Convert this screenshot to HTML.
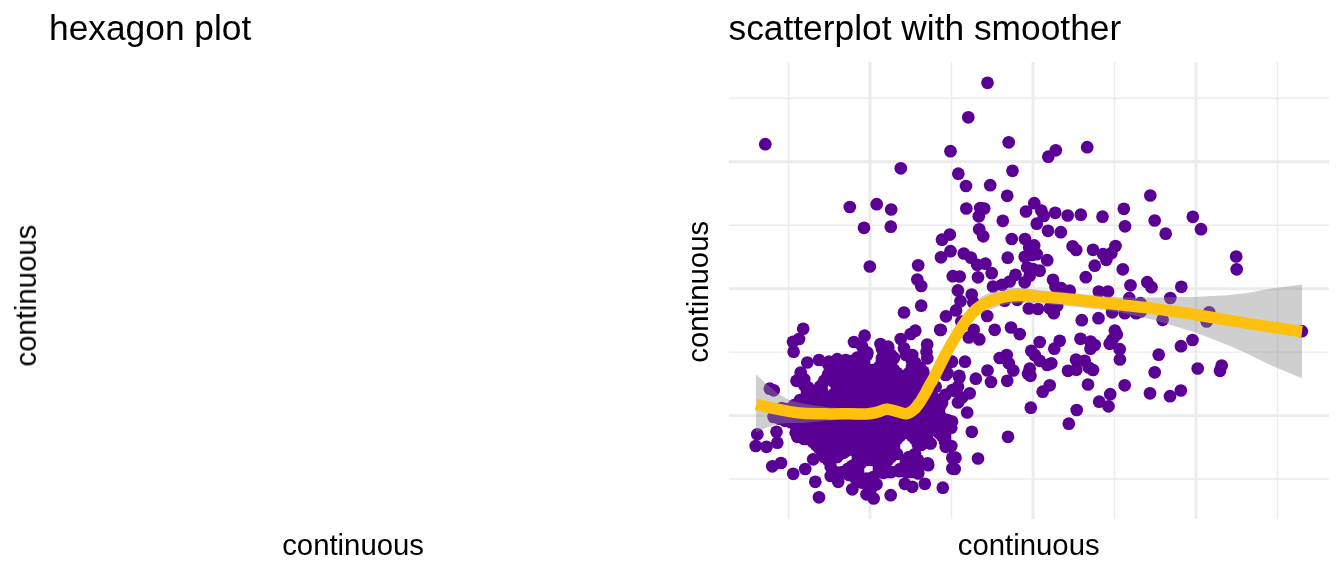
<!DOCTYPE html>
<html><head><meta charset="utf-8"><title>plots</title>
<style>
html,body{margin:0;padding:0;background:#fff;}
body{width:1344px;height:576px;overflow:hidden;}
svg{display:block}
text{font-family:"Liberation Sans",sans-serif;fill:#000;}
</style></head><body>
<svg width="1344" height="576" viewBox="0 0 1344 576">
<rect width="1344" height="576" fill="#fff"/>
<g opacity="0.999"><text x="49" y="40" font-size="35.35">hexagon plot</text>
<text x="728.5" y="40" font-size="35.35">scatterplot with smoother</text>
<text x="353.1" y="554.6" font-size="29.33" text-anchor="middle">continuous</text>
<text x="1028.7" y="554.6" font-size="29.33" text-anchor="middle">continuous</text>
<text transform="translate(35.9,295.6) rotate(-90)" font-size="29.33" text-anchor="middle">continuous</text>
<text transform="translate(707.9,291.8) rotate(-90)" font-size="29.33" text-anchor="middle">continuous</text>
</g><g stroke="#EBEBEB" fill="none"><line x1="788.5" x2="788.5" y1="62" y2="519" stroke-width="1.45"/><line x1="951.5" x2="951.5" y1="62" y2="519" stroke-width="1.45"/><line x1="1114.5" x2="1114.5" y1="62" y2="519" stroke-width="1.45"/><line x1="1277.5" x2="1277.5" y1="62" y2="519" stroke-width="1.45"/><line x1="729" x2="1329" y1="98.25" y2="98.25" stroke-width="1.45"/><line x1="729" x2="1329" y1="225.2" y2="225.2" stroke-width="1.45"/><line x1="729" x2="1329" y1="352.1" y2="352.1" stroke-width="1.45"/><line x1="729" x2="1329" y1="479.0" y2="479.0" stroke-width="1.45"/><line x1="870" x2="870" y1="62" y2="519" stroke-width="2.9"/><line x1="1033" x2="1033" y1="62" y2="519" stroke-width="2.9"/><line x1="1196" x2="1196" y1="62" y2="519" stroke-width="2.9"/><line x1="729" x2="1329" y1="161.8" y2="161.8" stroke-width="2.9"/><line x1="729" x2="1329" y1="288.7" y2="288.7" stroke-width="2.9"/><line x1="729" x2="1329" y1="415.6" y2="415.6" stroke-width="2.9"/></g>
<g fill="#5A0095"><circle cx="882.0" cy="349.0" r="6.35"/><circle cx="885.0" cy="349.0" r="6.35"/><circle cx="888.0" cy="349.0" r="6.35"/><circle cx="885.0" cy="352.0" r="6.35"/><circle cx="888.0" cy="352.0" r="6.35"/><circle cx="867.0" cy="355.0" r="6.35"/><circle cx="885.0" cy="355.0" r="6.35"/><circle cx="888.0" cy="355.0" r="6.35"/><circle cx="891.0" cy="355.0" r="6.35"/><circle cx="906.0" cy="355.0" r="6.35"/><circle cx="861.0" cy="358.0" r="6.35"/><circle cx="864.0" cy="358.0" r="6.35"/><circle cx="882.0" cy="358.0" r="6.35"/><circle cx="885.0" cy="358.0" r="6.35"/><circle cx="888.0" cy="358.0" r="6.35"/><circle cx="891.0" cy="358.0" r="6.35"/><circle cx="894.0" cy="358.0" r="6.35"/><circle cx="837.0" cy="361.0" r="6.35"/><circle cx="840.0" cy="361.0" r="6.35"/><circle cx="843.0" cy="361.0" r="6.35"/><circle cx="846.0" cy="361.0" r="6.35"/><circle cx="849.0" cy="361.0" r="6.35"/><circle cx="852.0" cy="361.0" r="6.35"/><circle cx="855.0" cy="361.0" r="6.35"/><circle cx="858.0" cy="361.0" r="6.35"/><circle cx="861.0" cy="361.0" r="6.35"/><circle cx="864.0" cy="361.0" r="6.35"/><circle cx="882.0" cy="361.0" r="6.35"/><circle cx="885.0" cy="361.0" r="6.35"/><circle cx="888.0" cy="361.0" r="6.35"/><circle cx="891.0" cy="361.0" r="6.35"/><circle cx="912.0" cy="361.0" r="6.35"/><circle cx="828.0" cy="364.0" r="6.35"/><circle cx="831.0" cy="364.0" r="6.35"/><circle cx="834.0" cy="364.0" r="6.35"/><circle cx="837.0" cy="364.0" r="6.35"/><circle cx="840.0" cy="364.0" r="6.35"/><circle cx="843.0" cy="364.0" r="6.35"/><circle cx="846.0" cy="364.0" r="6.35"/><circle cx="849.0" cy="364.0" r="6.35"/><circle cx="852.0" cy="364.0" r="6.35"/><circle cx="855.0" cy="364.0" r="6.35"/><circle cx="858.0" cy="364.0" r="6.35"/><circle cx="861.0" cy="364.0" r="6.35"/><circle cx="864.0" cy="364.0" r="6.35"/><circle cx="882.0" cy="364.0" r="6.35"/><circle cx="885.0" cy="364.0" r="6.35"/><circle cx="888.0" cy="364.0" r="6.35"/><circle cx="891.0" cy="364.0" r="6.35"/><circle cx="915.0" cy="364.0" r="6.35"/><circle cx="831.0" cy="367.0" r="6.35"/><circle cx="834.0" cy="367.0" r="6.35"/><circle cx="837.0" cy="367.0" r="6.35"/><circle cx="840.0" cy="367.0" r="6.35"/><circle cx="843.0" cy="367.0" r="6.35"/><circle cx="846.0" cy="367.0" r="6.35"/><circle cx="849.0" cy="367.0" r="6.35"/><circle cx="852.0" cy="367.0" r="6.35"/><circle cx="855.0" cy="367.0" r="6.35"/><circle cx="858.0" cy="367.0" r="6.35"/><circle cx="861.0" cy="367.0" r="6.35"/><circle cx="864.0" cy="367.0" r="6.35"/><circle cx="879.0" cy="367.0" r="6.35"/><circle cx="882.0" cy="367.0" r="6.35"/><circle cx="885.0" cy="367.0" r="6.35"/><circle cx="888.0" cy="367.0" r="6.35"/><circle cx="891.0" cy="367.0" r="6.35"/><circle cx="912.0" cy="367.0" r="6.35"/><circle cx="915.0" cy="367.0" r="6.35"/><circle cx="918.0" cy="367.0" r="6.35"/><circle cx="831.0" cy="370.0" r="6.35"/><circle cx="834.0" cy="370.0" r="6.35"/><circle cx="837.0" cy="370.0" r="6.35"/><circle cx="840.0" cy="370.0" r="6.35"/><circle cx="843.0" cy="370.0" r="6.35"/><circle cx="846.0" cy="370.0" r="6.35"/><circle cx="849.0" cy="370.0" r="6.35"/><circle cx="852.0" cy="370.0" r="6.35"/><circle cx="855.0" cy="370.0" r="6.35"/><circle cx="858.0" cy="370.0" r="6.35"/><circle cx="861.0" cy="370.0" r="6.35"/><circle cx="864.0" cy="370.0" r="6.35"/><circle cx="867.0" cy="370.0" r="6.35"/><circle cx="870.0" cy="370.0" r="6.35"/><circle cx="873.0" cy="370.0" r="6.35"/><circle cx="876.0" cy="370.0" r="6.35"/><circle cx="879.0" cy="370.0" r="6.35"/><circle cx="882.0" cy="370.0" r="6.35"/><circle cx="885.0" cy="370.0" r="6.35"/><circle cx="888.0" cy="370.0" r="6.35"/><circle cx="891.0" cy="370.0" r="6.35"/><circle cx="894.0" cy="370.0" r="6.35"/><circle cx="912.0" cy="370.0" r="6.35"/><circle cx="915.0" cy="370.0" r="6.35"/><circle cx="918.0" cy="370.0" r="6.35"/><circle cx="921.0" cy="370.0" r="6.35"/><circle cx="831.0" cy="373.0" r="6.35"/><circle cx="834.0" cy="373.0" r="6.35"/><circle cx="837.0" cy="373.0" r="6.35"/><circle cx="840.0" cy="373.0" r="6.35"/><circle cx="843.0" cy="373.0" r="6.35"/><circle cx="846.0" cy="373.0" r="6.35"/><circle cx="849.0" cy="373.0" r="6.35"/><circle cx="852.0" cy="373.0" r="6.35"/><circle cx="855.0" cy="373.0" r="6.35"/><circle cx="858.0" cy="373.0" r="6.35"/><circle cx="861.0" cy="373.0" r="6.35"/><circle cx="864.0" cy="373.0" r="6.35"/><circle cx="867.0" cy="373.0" r="6.35"/><circle cx="870.0" cy="373.0" r="6.35"/><circle cx="873.0" cy="373.0" r="6.35"/><circle cx="876.0" cy="373.0" r="6.35"/><circle cx="879.0" cy="373.0" r="6.35"/><circle cx="882.0" cy="373.0" r="6.35"/><circle cx="885.0" cy="373.0" r="6.35"/><circle cx="888.0" cy="373.0" r="6.35"/><circle cx="891.0" cy="373.0" r="6.35"/><circle cx="894.0" cy="373.0" r="6.35"/><circle cx="897.0" cy="373.0" r="6.35"/><circle cx="909.0" cy="373.0" r="6.35"/><circle cx="912.0" cy="373.0" r="6.35"/><circle cx="915.0" cy="373.0" r="6.35"/><circle cx="918.0" cy="373.0" r="6.35"/><circle cx="921.0" cy="373.0" r="6.35"/><circle cx="801.0" cy="376.0" r="6.35"/><circle cx="828.0" cy="376.0" r="6.35"/><circle cx="831.0" cy="376.0" r="6.35"/><circle cx="834.0" cy="376.0" r="6.35"/><circle cx="837.0" cy="376.0" r="6.35"/><circle cx="840.0" cy="376.0" r="6.35"/><circle cx="843.0" cy="376.0" r="6.35"/><circle cx="846.0" cy="376.0" r="6.35"/><circle cx="849.0" cy="376.0" r="6.35"/><circle cx="852.0" cy="376.0" r="6.35"/><circle cx="855.0" cy="376.0" r="6.35"/><circle cx="858.0" cy="376.0" r="6.35"/><circle cx="861.0" cy="376.0" r="6.35"/><circle cx="864.0" cy="376.0" r="6.35"/><circle cx="867.0" cy="376.0" r="6.35"/><circle cx="870.0" cy="376.0" r="6.35"/><circle cx="873.0" cy="376.0" r="6.35"/><circle cx="876.0" cy="376.0" r="6.35"/><circle cx="879.0" cy="376.0" r="6.35"/><circle cx="882.0" cy="376.0" r="6.35"/><circle cx="885.0" cy="376.0" r="6.35"/><circle cx="888.0" cy="376.0" r="6.35"/><circle cx="891.0" cy="376.0" r="6.35"/><circle cx="894.0" cy="376.0" r="6.35"/><circle cx="897.0" cy="376.0" r="6.35"/><circle cx="900.0" cy="376.0" r="6.35"/><circle cx="903.0" cy="376.0" r="6.35"/><circle cx="906.0" cy="376.0" r="6.35"/><circle cx="909.0" cy="376.0" r="6.35"/><circle cx="912.0" cy="376.0" r="6.35"/><circle cx="915.0" cy="376.0" r="6.35"/><circle cx="918.0" cy="376.0" r="6.35"/><circle cx="921.0" cy="376.0" r="6.35"/><circle cx="924.0" cy="376.0" r="6.35"/><circle cx="801.0" cy="379.0" r="6.35"/><circle cx="828.0" cy="379.0" r="6.35"/><circle cx="831.0" cy="379.0" r="6.35"/><circle cx="834.0" cy="379.0" r="6.35"/><circle cx="837.0" cy="379.0" r="6.35"/><circle cx="840.0" cy="379.0" r="6.35"/><circle cx="843.0" cy="379.0" r="6.35"/><circle cx="846.0" cy="379.0" r="6.35"/><circle cx="849.0" cy="379.0" r="6.35"/><circle cx="852.0" cy="379.0" r="6.35"/><circle cx="855.0" cy="379.0" r="6.35"/><circle cx="858.0" cy="379.0" r="6.35"/><circle cx="861.0" cy="379.0" r="6.35"/><circle cx="864.0" cy="379.0" r="6.35"/><circle cx="867.0" cy="379.0" r="6.35"/><circle cx="870.0" cy="379.0" r="6.35"/><circle cx="873.0" cy="379.0" r="6.35"/><circle cx="876.0" cy="379.0" r="6.35"/><circle cx="879.0" cy="379.0" r="6.35"/><circle cx="882.0" cy="379.0" r="6.35"/><circle cx="885.0" cy="379.0" r="6.35"/><circle cx="888.0" cy="379.0" r="6.35"/><circle cx="891.0" cy="379.0" r="6.35"/><circle cx="894.0" cy="379.0" r="6.35"/><circle cx="897.0" cy="379.0" r="6.35"/><circle cx="900.0" cy="379.0" r="6.35"/><circle cx="903.0" cy="379.0" r="6.35"/><circle cx="906.0" cy="379.0" r="6.35"/><circle cx="909.0" cy="379.0" r="6.35"/><circle cx="912.0" cy="379.0" r="6.35"/><circle cx="915.0" cy="379.0" r="6.35"/><circle cx="918.0" cy="379.0" r="6.35"/><circle cx="921.0" cy="379.0" r="6.35"/><circle cx="924.0" cy="379.0" r="6.35"/><circle cx="804.0" cy="382.0" r="6.35"/><circle cx="834.0" cy="382.0" r="6.35"/><circle cx="837.0" cy="382.0" r="6.35"/><circle cx="840.0" cy="382.0" r="6.35"/><circle cx="843.0" cy="382.0" r="6.35"/><circle cx="846.0" cy="382.0" r="6.35"/><circle cx="849.0" cy="382.0" r="6.35"/><circle cx="852.0" cy="382.0" r="6.35"/><circle cx="855.0" cy="382.0" r="6.35"/><circle cx="858.0" cy="382.0" r="6.35"/><circle cx="861.0" cy="382.0" r="6.35"/><circle cx="864.0" cy="382.0" r="6.35"/><circle cx="867.0" cy="382.0" r="6.35"/><circle cx="870.0" cy="382.0" r="6.35"/><circle cx="873.0" cy="382.0" r="6.35"/><circle cx="876.0" cy="382.0" r="6.35"/><circle cx="879.0" cy="382.0" r="6.35"/><circle cx="882.0" cy="382.0" r="6.35"/><circle cx="885.0" cy="382.0" r="6.35"/><circle cx="888.0" cy="382.0" r="6.35"/><circle cx="891.0" cy="382.0" r="6.35"/><circle cx="894.0" cy="382.0" r="6.35"/><circle cx="897.0" cy="382.0" r="6.35"/><circle cx="900.0" cy="382.0" r="6.35"/><circle cx="903.0" cy="382.0" r="6.35"/><circle cx="906.0" cy="382.0" r="6.35"/><circle cx="909.0" cy="382.0" r="6.35"/><circle cx="912.0" cy="382.0" r="6.35"/><circle cx="915.0" cy="382.0" r="6.35"/><circle cx="918.0" cy="382.0" r="6.35"/><circle cx="921.0" cy="382.0" r="6.35"/><circle cx="924.0" cy="382.0" r="6.35"/><circle cx="927.0" cy="382.0" r="6.35"/><circle cx="804.0" cy="385.0" r="6.35"/><circle cx="822.0" cy="385.0" r="6.35"/><circle cx="837.0" cy="385.0" r="6.35"/><circle cx="840.0" cy="385.0" r="6.35"/><circle cx="843.0" cy="385.0" r="6.35"/><circle cx="846.0" cy="385.0" r="6.35"/><circle cx="849.0" cy="385.0" r="6.35"/><circle cx="852.0" cy="385.0" r="6.35"/><circle cx="855.0" cy="385.0" r="6.35"/><circle cx="858.0" cy="385.0" r="6.35"/><circle cx="861.0" cy="385.0" r="6.35"/><circle cx="864.0" cy="385.0" r="6.35"/><circle cx="867.0" cy="385.0" r="6.35"/><circle cx="870.0" cy="385.0" r="6.35"/><circle cx="873.0" cy="385.0" r="6.35"/><circle cx="876.0" cy="385.0" r="6.35"/><circle cx="879.0" cy="385.0" r="6.35"/><circle cx="882.0" cy="385.0" r="6.35"/><circle cx="885.0" cy="385.0" r="6.35"/><circle cx="888.0" cy="385.0" r="6.35"/><circle cx="891.0" cy="385.0" r="6.35"/><circle cx="894.0" cy="385.0" r="6.35"/><circle cx="897.0" cy="385.0" r="6.35"/><circle cx="900.0" cy="385.0" r="6.35"/><circle cx="903.0" cy="385.0" r="6.35"/><circle cx="906.0" cy="385.0" r="6.35"/><circle cx="909.0" cy="385.0" r="6.35"/><circle cx="912.0" cy="385.0" r="6.35"/><circle cx="915.0" cy="385.0" r="6.35"/><circle cx="918.0" cy="385.0" r="6.35"/><circle cx="921.0" cy="385.0" r="6.35"/><circle cx="924.0" cy="385.0" r="6.35"/><circle cx="927.0" cy="385.0" r="6.35"/><circle cx="807.0" cy="388.0" r="6.35"/><circle cx="837.0" cy="388.0" r="6.35"/><circle cx="840.0" cy="388.0" r="6.35"/><circle cx="843.0" cy="388.0" r="6.35"/><circle cx="846.0" cy="388.0" r="6.35"/><circle cx="849.0" cy="388.0" r="6.35"/><circle cx="852.0" cy="388.0" r="6.35"/><circle cx="855.0" cy="388.0" r="6.35"/><circle cx="858.0" cy="388.0" r="6.35"/><circle cx="861.0" cy="388.0" r="6.35"/><circle cx="864.0" cy="388.0" r="6.35"/><circle cx="867.0" cy="388.0" r="6.35"/><circle cx="870.0" cy="388.0" r="6.35"/><circle cx="873.0" cy="388.0" r="6.35"/><circle cx="876.0" cy="388.0" r="6.35"/><circle cx="879.0" cy="388.0" r="6.35"/><circle cx="882.0" cy="388.0" r="6.35"/><circle cx="885.0" cy="388.0" r="6.35"/><circle cx="888.0" cy="388.0" r="6.35"/><circle cx="891.0" cy="388.0" r="6.35"/><circle cx="894.0" cy="388.0" r="6.35"/><circle cx="897.0" cy="388.0" r="6.35"/><circle cx="900.0" cy="388.0" r="6.35"/><circle cx="903.0" cy="388.0" r="6.35"/><circle cx="906.0" cy="388.0" r="6.35"/><circle cx="909.0" cy="388.0" r="6.35"/><circle cx="912.0" cy="388.0" r="6.35"/><circle cx="915.0" cy="388.0" r="6.35"/><circle cx="918.0" cy="388.0" r="6.35"/><circle cx="921.0" cy="388.0" r="6.35"/><circle cx="924.0" cy="388.0" r="6.35"/><circle cx="927.0" cy="388.0" r="6.35"/><circle cx="807.0" cy="391.0" r="6.35"/><circle cx="810.0" cy="391.0" r="6.35"/><circle cx="813.0" cy="391.0" r="6.35"/><circle cx="816.0" cy="391.0" r="6.35"/><circle cx="819.0" cy="391.0" r="6.35"/><circle cx="822.0" cy="391.0" r="6.35"/><circle cx="837.0" cy="391.0" r="6.35"/><circle cx="840.0" cy="391.0" r="6.35"/><circle cx="843.0" cy="391.0" r="6.35"/><circle cx="846.0" cy="391.0" r="6.35"/><circle cx="849.0" cy="391.0" r="6.35"/><circle cx="852.0" cy="391.0" r="6.35"/><circle cx="855.0" cy="391.0" r="6.35"/><circle cx="858.0" cy="391.0" r="6.35"/><circle cx="861.0" cy="391.0" r="6.35"/><circle cx="864.0" cy="391.0" r="6.35"/><circle cx="867.0" cy="391.0" r="6.35"/><circle cx="870.0" cy="391.0" r="6.35"/><circle cx="873.0" cy="391.0" r="6.35"/><circle cx="876.0" cy="391.0" r="6.35"/><circle cx="879.0" cy="391.0" r="6.35"/><circle cx="882.0" cy="391.0" r="6.35"/><circle cx="885.0" cy="391.0" r="6.35"/><circle cx="888.0" cy="391.0" r="6.35"/><circle cx="891.0" cy="391.0" r="6.35"/><circle cx="894.0" cy="391.0" r="6.35"/><circle cx="897.0" cy="391.0" r="6.35"/><circle cx="900.0" cy="391.0" r="6.35"/><circle cx="903.0" cy="391.0" r="6.35"/><circle cx="906.0" cy="391.0" r="6.35"/><circle cx="909.0" cy="391.0" r="6.35"/><circle cx="912.0" cy="391.0" r="6.35"/><circle cx="915.0" cy="391.0" r="6.35"/><circle cx="918.0" cy="391.0" r="6.35"/><circle cx="921.0" cy="391.0" r="6.35"/><circle cx="924.0" cy="391.0" r="6.35"/><circle cx="927.0" cy="391.0" r="6.35"/><circle cx="807.0" cy="394.0" r="6.35"/><circle cx="810.0" cy="394.0" r="6.35"/><circle cx="813.0" cy="394.0" r="6.35"/><circle cx="816.0" cy="394.0" r="6.35"/><circle cx="819.0" cy="394.0" r="6.35"/><circle cx="822.0" cy="394.0" r="6.35"/><circle cx="834.0" cy="394.0" r="6.35"/><circle cx="837.0" cy="394.0" r="6.35"/><circle cx="840.0" cy="394.0" r="6.35"/><circle cx="843.0" cy="394.0" r="6.35"/><circle cx="846.0" cy="394.0" r="6.35"/><circle cx="849.0" cy="394.0" r="6.35"/><circle cx="852.0" cy="394.0" r="6.35"/><circle cx="855.0" cy="394.0" r="6.35"/><circle cx="858.0" cy="394.0" r="6.35"/><circle cx="861.0" cy="394.0" r="6.35"/><circle cx="864.0" cy="394.0" r="6.35"/><circle cx="867.0" cy="394.0" r="6.35"/><circle cx="870.0" cy="394.0" r="6.35"/><circle cx="873.0" cy="394.0" r="6.35"/><circle cx="876.0" cy="394.0" r="6.35"/><circle cx="879.0" cy="394.0" r="6.35"/><circle cx="882.0" cy="394.0" r="6.35"/><circle cx="885.0" cy="394.0" r="6.35"/><circle cx="888.0" cy="394.0" r="6.35"/><circle cx="891.0" cy="394.0" r="6.35"/><circle cx="894.0" cy="394.0" r="6.35"/><circle cx="897.0" cy="394.0" r="6.35"/><circle cx="900.0" cy="394.0" r="6.35"/><circle cx="903.0" cy="394.0" r="6.35"/><circle cx="906.0" cy="394.0" r="6.35"/><circle cx="909.0" cy="394.0" r="6.35"/><circle cx="912.0" cy="394.0" r="6.35"/><circle cx="915.0" cy="394.0" r="6.35"/><circle cx="918.0" cy="394.0" r="6.35"/><circle cx="921.0" cy="394.0" r="6.35"/><circle cx="924.0" cy="394.0" r="6.35"/><circle cx="927.0" cy="394.0" r="6.35"/><circle cx="930.0" cy="394.0" r="6.35"/><circle cx="807.0" cy="397.0" r="6.35"/><circle cx="810.0" cy="397.0" r="6.35"/><circle cx="813.0" cy="397.0" r="6.35"/><circle cx="816.0" cy="397.0" r="6.35"/><circle cx="819.0" cy="397.0" r="6.35"/><circle cx="822.0" cy="397.0" r="6.35"/><circle cx="825.0" cy="397.0" r="6.35"/><circle cx="828.0" cy="397.0" r="6.35"/><circle cx="831.0" cy="397.0" r="6.35"/><circle cx="834.0" cy="397.0" r="6.35"/><circle cx="837.0" cy="397.0" r="6.35"/><circle cx="840.0" cy="397.0" r="6.35"/><circle cx="843.0" cy="397.0" r="6.35"/><circle cx="846.0" cy="397.0" r="6.35"/><circle cx="849.0" cy="397.0" r="6.35"/><circle cx="852.0" cy="397.0" r="6.35"/><circle cx="855.0" cy="397.0" r="6.35"/><circle cx="858.0" cy="397.0" r="6.35"/><circle cx="861.0" cy="397.0" r="6.35"/><circle cx="864.0" cy="397.0" r="6.35"/><circle cx="867.0" cy="397.0" r="6.35"/><circle cx="870.0" cy="397.0" r="6.35"/><circle cx="873.0" cy="397.0" r="6.35"/><circle cx="876.0" cy="397.0" r="6.35"/><circle cx="879.0" cy="397.0" r="6.35"/><circle cx="882.0" cy="397.0" r="6.35"/><circle cx="885.0" cy="397.0" r="6.35"/><circle cx="888.0" cy="397.0" r="6.35"/><circle cx="891.0" cy="397.0" r="6.35"/><circle cx="894.0" cy="397.0" r="6.35"/><circle cx="897.0" cy="397.0" r="6.35"/><circle cx="900.0" cy="397.0" r="6.35"/><circle cx="903.0" cy="397.0" r="6.35"/><circle cx="906.0" cy="397.0" r="6.35"/><circle cx="909.0" cy="397.0" r="6.35"/><circle cx="912.0" cy="397.0" r="6.35"/><circle cx="915.0" cy="397.0" r="6.35"/><circle cx="918.0" cy="397.0" r="6.35"/><circle cx="921.0" cy="397.0" r="6.35"/><circle cx="924.0" cy="397.0" r="6.35"/><circle cx="927.0" cy="397.0" r="6.35"/><circle cx="930.0" cy="397.0" r="6.35"/><circle cx="933.0" cy="397.0" r="6.35"/><circle cx="807.0" cy="400.0" r="6.35"/><circle cx="810.0" cy="400.0" r="6.35"/><circle cx="813.0" cy="400.0" r="6.35"/><circle cx="816.0" cy="400.0" r="6.35"/><circle cx="819.0" cy="400.0" r="6.35"/><circle cx="822.0" cy="400.0" r="6.35"/><circle cx="825.0" cy="400.0" r="6.35"/><circle cx="828.0" cy="400.0" r="6.35"/><circle cx="831.0" cy="400.0" r="6.35"/><circle cx="834.0" cy="400.0" r="6.35"/><circle cx="837.0" cy="400.0" r="6.35"/><circle cx="840.0" cy="400.0" r="6.35"/><circle cx="843.0" cy="400.0" r="6.35"/><circle cx="846.0" cy="400.0" r="6.35"/><circle cx="849.0" cy="400.0" r="6.35"/><circle cx="852.0" cy="400.0" r="6.35"/><circle cx="855.0" cy="400.0" r="6.35"/><circle cx="858.0" cy="400.0" r="6.35"/><circle cx="861.0" cy="400.0" r="6.35"/><circle cx="864.0" cy="400.0" r="6.35"/><circle cx="867.0" cy="400.0" r="6.35"/><circle cx="870.0" cy="400.0" r="6.35"/><circle cx="873.0" cy="400.0" r="6.35"/><circle cx="876.0" cy="400.0" r="6.35"/><circle cx="879.0" cy="400.0" r="6.35"/><circle cx="882.0" cy="400.0" r="6.35"/><circle cx="885.0" cy="400.0" r="6.35"/><circle cx="888.0" cy="400.0" r="6.35"/><circle cx="891.0" cy="400.0" r="6.35"/><circle cx="894.0" cy="400.0" r="6.35"/><circle cx="897.0" cy="400.0" r="6.35"/><circle cx="900.0" cy="400.0" r="6.35"/><circle cx="903.0" cy="400.0" r="6.35"/><circle cx="906.0" cy="400.0" r="6.35"/><circle cx="909.0" cy="400.0" r="6.35"/><circle cx="912.0" cy="400.0" r="6.35"/><circle cx="915.0" cy="400.0" r="6.35"/><circle cx="918.0" cy="400.0" r="6.35"/><circle cx="921.0" cy="400.0" r="6.35"/><circle cx="924.0" cy="400.0" r="6.35"/><circle cx="927.0" cy="400.0" r="6.35"/><circle cx="930.0" cy="400.0" r="6.35"/><circle cx="933.0" cy="400.0" r="6.35"/><circle cx="936.0" cy="400.0" r="6.35"/><circle cx="939.0" cy="400.0" r="6.35"/><circle cx="942.0" cy="400.0" r="6.35"/><circle cx="807.0" cy="403.0" r="6.35"/><circle cx="810.0" cy="403.0" r="6.35"/><circle cx="813.0" cy="403.0" r="6.35"/><circle cx="816.0" cy="403.0" r="6.35"/><circle cx="819.0" cy="403.0" r="6.35"/><circle cx="822.0" cy="403.0" r="6.35"/><circle cx="825.0" cy="403.0" r="6.35"/><circle cx="828.0" cy="403.0" r="6.35"/><circle cx="831.0" cy="403.0" r="6.35"/><circle cx="834.0" cy="403.0" r="6.35"/><circle cx="837.0" cy="403.0" r="6.35"/><circle cx="840.0" cy="403.0" r="6.35"/><circle cx="843.0" cy="403.0" r="6.35"/><circle cx="846.0" cy="403.0" r="6.35"/><circle cx="849.0" cy="403.0" r="6.35"/><circle cx="852.0" cy="403.0" r="6.35"/><circle cx="855.0" cy="403.0" r="6.35"/><circle cx="858.0" cy="403.0" r="6.35"/><circle cx="861.0" cy="403.0" r="6.35"/><circle cx="864.0" cy="403.0" r="6.35"/><circle cx="867.0" cy="403.0" r="6.35"/><circle cx="870.0" cy="403.0" r="6.35"/><circle cx="873.0" cy="403.0" r="6.35"/><circle cx="876.0" cy="403.0" r="6.35"/><circle cx="879.0" cy="403.0" r="6.35"/><circle cx="882.0" cy="403.0" r="6.35"/><circle cx="885.0" cy="403.0" r="6.35"/><circle cx="888.0" cy="403.0" r="6.35"/><circle cx="891.0" cy="403.0" r="6.35"/><circle cx="894.0" cy="403.0" r="6.35"/><circle cx="897.0" cy="403.0" r="6.35"/><circle cx="900.0" cy="403.0" r="6.35"/><circle cx="903.0" cy="403.0" r="6.35"/><circle cx="906.0" cy="403.0" r="6.35"/><circle cx="909.0" cy="403.0" r="6.35"/><circle cx="912.0" cy="403.0" r="6.35"/><circle cx="915.0" cy="403.0" r="6.35"/><circle cx="918.0" cy="403.0" r="6.35"/><circle cx="921.0" cy="403.0" r="6.35"/><circle cx="924.0" cy="403.0" r="6.35"/><circle cx="927.0" cy="403.0" r="6.35"/><circle cx="930.0" cy="403.0" r="6.35"/><circle cx="933.0" cy="403.0" r="6.35"/><circle cx="936.0" cy="403.0" r="6.35"/><circle cx="939.0" cy="403.0" r="6.35"/><circle cx="942.0" cy="403.0" r="6.35"/><circle cx="801.0" cy="406.0" r="6.35"/><circle cx="804.0" cy="406.0" r="6.35"/><circle cx="807.0" cy="406.0" r="6.35"/><circle cx="810.0" cy="406.0" r="6.35"/><circle cx="813.0" cy="406.0" r="6.35"/><circle cx="816.0" cy="406.0" r="6.35"/><circle cx="819.0" cy="406.0" r="6.35"/><circle cx="822.0" cy="406.0" r="6.35"/><circle cx="825.0" cy="406.0" r="6.35"/><circle cx="828.0" cy="406.0" r="6.35"/><circle cx="831.0" cy="406.0" r="6.35"/><circle cx="834.0" cy="406.0" r="6.35"/><circle cx="837.0" cy="406.0" r="6.35"/><circle cx="840.0" cy="406.0" r="6.35"/><circle cx="843.0" cy="406.0" r="6.35"/><circle cx="846.0" cy="406.0" r="6.35"/><circle cx="849.0" cy="406.0" r="6.35"/><circle cx="852.0" cy="406.0" r="6.35"/><circle cx="855.0" cy="406.0" r="6.35"/><circle cx="858.0" cy="406.0" r="6.35"/><circle cx="861.0" cy="406.0" r="6.35"/><circle cx="864.0" cy="406.0" r="6.35"/><circle cx="867.0" cy="406.0" r="6.35"/><circle cx="870.0" cy="406.0" r="6.35"/><circle cx="873.0" cy="406.0" r="6.35"/><circle cx="876.0" cy="406.0" r="6.35"/><circle cx="879.0" cy="406.0" r="6.35"/><circle cx="882.0" cy="406.0" r="6.35"/><circle cx="885.0" cy="406.0" r="6.35"/><circle cx="888.0" cy="406.0" r="6.35"/><circle cx="891.0" cy="406.0" r="6.35"/><circle cx="894.0" cy="406.0" r="6.35"/><circle cx="897.0" cy="406.0" r="6.35"/><circle cx="900.0" cy="406.0" r="6.35"/><circle cx="903.0" cy="406.0" r="6.35"/><circle cx="906.0" cy="406.0" r="6.35"/><circle cx="909.0" cy="406.0" r="6.35"/><circle cx="912.0" cy="406.0" r="6.35"/><circle cx="915.0" cy="406.0" r="6.35"/><circle cx="918.0" cy="406.0" r="6.35"/><circle cx="921.0" cy="406.0" r="6.35"/><circle cx="924.0" cy="406.0" r="6.35"/><circle cx="927.0" cy="406.0" r="6.35"/><circle cx="930.0" cy="406.0" r="6.35"/><circle cx="933.0" cy="406.0" r="6.35"/><circle cx="936.0" cy="406.0" r="6.35"/><circle cx="939.0" cy="406.0" r="6.35"/><circle cx="786.0" cy="409.0" r="6.35"/><circle cx="789.0" cy="409.0" r="6.35"/><circle cx="792.0" cy="409.0" r="6.35"/><circle cx="795.0" cy="409.0" r="6.35"/><circle cx="798.0" cy="409.0" r="6.35"/><circle cx="801.0" cy="409.0" r="6.35"/><circle cx="804.0" cy="409.0" r="6.35"/><circle cx="807.0" cy="409.0" r="6.35"/><circle cx="810.0" cy="409.0" r="6.35"/><circle cx="813.0" cy="409.0" r="6.35"/><circle cx="816.0" cy="409.0" r="6.35"/><circle cx="819.0" cy="409.0" r="6.35"/><circle cx="822.0" cy="409.0" r="6.35"/><circle cx="825.0" cy="409.0" r="6.35"/><circle cx="828.0" cy="409.0" r="6.35"/><circle cx="831.0" cy="409.0" r="6.35"/><circle cx="834.0" cy="409.0" r="6.35"/><circle cx="837.0" cy="409.0" r="6.35"/><circle cx="840.0" cy="409.0" r="6.35"/><circle cx="843.0" cy="409.0" r="6.35"/><circle cx="846.0" cy="409.0" r="6.35"/><circle cx="849.0" cy="409.0" r="6.35"/><circle cx="852.0" cy="409.0" r="6.35"/><circle cx="855.0" cy="409.0" r="6.35"/><circle cx="858.0" cy="409.0" r="6.35"/><circle cx="861.0" cy="409.0" r="6.35"/><circle cx="864.0" cy="409.0" r="6.35"/><circle cx="867.0" cy="409.0" r="6.35"/><circle cx="870.0" cy="409.0" r="6.35"/><circle cx="873.0" cy="409.0" r="6.35"/><circle cx="876.0" cy="409.0" r="6.35"/><circle cx="879.0" cy="409.0" r="6.35"/><circle cx="882.0" cy="409.0" r="6.35"/><circle cx="885.0" cy="409.0" r="6.35"/><circle cx="888.0" cy="409.0" r="6.35"/><circle cx="891.0" cy="409.0" r="6.35"/><circle cx="894.0" cy="409.0" r="6.35"/><circle cx="897.0" cy="409.0" r="6.35"/><circle cx="900.0" cy="409.0" r="6.35"/><circle cx="903.0" cy="409.0" r="6.35"/><circle cx="906.0" cy="409.0" r="6.35"/><circle cx="909.0" cy="409.0" r="6.35"/><circle cx="912.0" cy="409.0" r="6.35"/><circle cx="915.0" cy="409.0" r="6.35"/><circle cx="918.0" cy="409.0" r="6.35"/><circle cx="921.0" cy="409.0" r="6.35"/><circle cx="924.0" cy="409.0" r="6.35"/><circle cx="927.0" cy="409.0" r="6.35"/><circle cx="930.0" cy="409.0" r="6.35"/><circle cx="933.0" cy="409.0" r="6.35"/><circle cx="936.0" cy="409.0" r="6.35"/><circle cx="939.0" cy="409.0" r="6.35"/><circle cx="780.0" cy="412.0" r="6.35"/><circle cx="783.0" cy="412.0" r="6.35"/><circle cx="786.0" cy="412.0" r="6.35"/><circle cx="789.0" cy="412.0" r="6.35"/><circle cx="792.0" cy="412.0" r="6.35"/><circle cx="795.0" cy="412.0" r="6.35"/><circle cx="798.0" cy="412.0" r="6.35"/><circle cx="801.0" cy="412.0" r="6.35"/><circle cx="804.0" cy="412.0" r="6.35"/><circle cx="807.0" cy="412.0" r="6.35"/><circle cx="810.0" cy="412.0" r="6.35"/><circle cx="813.0" cy="412.0" r="6.35"/><circle cx="816.0" cy="412.0" r="6.35"/><circle cx="819.0" cy="412.0" r="6.35"/><circle cx="822.0" cy="412.0" r="6.35"/><circle cx="825.0" cy="412.0" r="6.35"/><circle cx="828.0" cy="412.0" r="6.35"/><circle cx="831.0" cy="412.0" r="6.35"/><circle cx="834.0" cy="412.0" r="6.35"/><circle cx="837.0" cy="412.0" r="6.35"/><circle cx="840.0" cy="412.0" r="6.35"/><circle cx="843.0" cy="412.0" r="6.35"/><circle cx="846.0" cy="412.0" r="6.35"/><circle cx="849.0" cy="412.0" r="6.35"/><circle cx="852.0" cy="412.0" r="6.35"/><circle cx="855.0" cy="412.0" r="6.35"/><circle cx="858.0" cy="412.0" r="6.35"/><circle cx="861.0" cy="412.0" r="6.35"/><circle cx="864.0" cy="412.0" r="6.35"/><circle cx="867.0" cy="412.0" r="6.35"/><circle cx="870.0" cy="412.0" r="6.35"/><circle cx="873.0" cy="412.0" r="6.35"/><circle cx="876.0" cy="412.0" r="6.35"/><circle cx="879.0" cy="412.0" r="6.35"/><circle cx="882.0" cy="412.0" r="6.35"/><circle cx="885.0" cy="412.0" r="6.35"/><circle cx="888.0" cy="412.0" r="6.35"/><circle cx="891.0" cy="412.0" r="6.35"/><circle cx="894.0" cy="412.0" r="6.35"/><circle cx="897.0" cy="412.0" r="6.35"/><circle cx="900.0" cy="412.0" r="6.35"/><circle cx="903.0" cy="412.0" r="6.35"/><circle cx="906.0" cy="412.0" r="6.35"/><circle cx="909.0" cy="412.0" r="6.35"/><circle cx="912.0" cy="412.0" r="6.35"/><circle cx="915.0" cy="412.0" r="6.35"/><circle cx="918.0" cy="412.0" r="6.35"/><circle cx="921.0" cy="412.0" r="6.35"/><circle cx="924.0" cy="412.0" r="6.35"/><circle cx="927.0" cy="412.0" r="6.35"/><circle cx="930.0" cy="412.0" r="6.35"/><circle cx="933.0" cy="412.0" r="6.35"/><circle cx="936.0" cy="412.0" r="6.35"/><circle cx="939.0" cy="412.0" r="6.35"/><circle cx="777.0" cy="415.0" r="6.35"/><circle cx="780.0" cy="415.0" r="6.35"/><circle cx="783.0" cy="415.0" r="6.35"/><circle cx="786.0" cy="415.0" r="6.35"/><circle cx="789.0" cy="415.0" r="6.35"/><circle cx="792.0" cy="415.0" r="6.35"/><circle cx="795.0" cy="415.0" r="6.35"/><circle cx="798.0" cy="415.0" r="6.35"/><circle cx="801.0" cy="415.0" r="6.35"/><circle cx="804.0" cy="415.0" r="6.35"/><circle cx="807.0" cy="415.0" r="6.35"/><circle cx="810.0" cy="415.0" r="6.35"/><circle cx="813.0" cy="415.0" r="6.35"/><circle cx="816.0" cy="415.0" r="6.35"/><circle cx="819.0" cy="415.0" r="6.35"/><circle cx="822.0" cy="415.0" r="6.35"/><circle cx="825.0" cy="415.0" r="6.35"/><circle cx="828.0" cy="415.0" r="6.35"/><circle cx="831.0" cy="415.0" r="6.35"/><circle cx="834.0" cy="415.0" r="6.35"/><circle cx="837.0" cy="415.0" r="6.35"/><circle cx="840.0" cy="415.0" r="6.35"/><circle cx="843.0" cy="415.0" r="6.35"/><circle cx="846.0" cy="415.0" r="6.35"/><circle cx="849.0" cy="415.0" r="6.35"/><circle cx="852.0" cy="415.0" r="6.35"/><circle cx="855.0" cy="415.0" r="6.35"/><circle cx="858.0" cy="415.0" r="6.35"/><circle cx="861.0" cy="415.0" r="6.35"/><circle cx="864.0" cy="415.0" r="6.35"/><circle cx="867.0" cy="415.0" r="6.35"/><circle cx="870.0" cy="415.0" r="6.35"/><circle cx="873.0" cy="415.0" r="6.35"/><circle cx="876.0" cy="415.0" r="6.35"/><circle cx="879.0" cy="415.0" r="6.35"/><circle cx="882.0" cy="415.0" r="6.35"/><circle cx="885.0" cy="415.0" r="6.35"/><circle cx="888.0" cy="415.0" r="6.35"/><circle cx="891.0" cy="415.0" r="6.35"/><circle cx="894.0" cy="415.0" r="6.35"/><circle cx="897.0" cy="415.0" r="6.35"/><circle cx="900.0" cy="415.0" r="6.35"/><circle cx="903.0" cy="415.0" r="6.35"/><circle cx="906.0" cy="415.0" r="6.35"/><circle cx="909.0" cy="415.0" r="6.35"/><circle cx="912.0" cy="415.0" r="6.35"/><circle cx="915.0" cy="415.0" r="6.35"/><circle cx="918.0" cy="415.0" r="6.35"/><circle cx="921.0" cy="415.0" r="6.35"/><circle cx="924.0" cy="415.0" r="6.35"/><circle cx="927.0" cy="415.0" r="6.35"/><circle cx="930.0" cy="415.0" r="6.35"/><circle cx="933.0" cy="415.0" r="6.35"/><circle cx="936.0" cy="415.0" r="6.35"/><circle cx="939.0" cy="415.0" r="6.35"/><circle cx="780.0" cy="418.0" r="6.35"/><circle cx="783.0" cy="418.0" r="6.35"/><circle cx="786.0" cy="418.0" r="6.35"/><circle cx="789.0" cy="418.0" r="6.35"/><circle cx="792.0" cy="418.0" r="6.35"/><circle cx="795.0" cy="418.0" r="6.35"/><circle cx="798.0" cy="418.0" r="6.35"/><circle cx="801.0" cy="418.0" r="6.35"/><circle cx="804.0" cy="418.0" r="6.35"/><circle cx="807.0" cy="418.0" r="6.35"/><circle cx="810.0" cy="418.0" r="6.35"/><circle cx="813.0" cy="418.0" r="6.35"/><circle cx="816.0" cy="418.0" r="6.35"/><circle cx="819.0" cy="418.0" r="6.35"/><circle cx="822.0" cy="418.0" r="6.35"/><circle cx="825.0" cy="418.0" r="6.35"/><circle cx="828.0" cy="418.0" r="6.35"/><circle cx="831.0" cy="418.0" r="6.35"/><circle cx="834.0" cy="418.0" r="6.35"/><circle cx="837.0" cy="418.0" r="6.35"/><circle cx="840.0" cy="418.0" r="6.35"/><circle cx="843.0" cy="418.0" r="6.35"/><circle cx="846.0" cy="418.0" r="6.35"/><circle cx="849.0" cy="418.0" r="6.35"/><circle cx="852.0" cy="418.0" r="6.35"/><circle cx="855.0" cy="418.0" r="6.35"/><circle cx="858.0" cy="418.0" r="6.35"/><circle cx="861.0" cy="418.0" r="6.35"/><circle cx="864.0" cy="418.0" r="6.35"/><circle cx="867.0" cy="418.0" r="6.35"/><circle cx="870.0" cy="418.0" r="6.35"/><circle cx="873.0" cy="418.0" r="6.35"/><circle cx="876.0" cy="418.0" r="6.35"/><circle cx="879.0" cy="418.0" r="6.35"/><circle cx="882.0" cy="418.0" r="6.35"/><circle cx="885.0" cy="418.0" r="6.35"/><circle cx="888.0" cy="418.0" r="6.35"/><circle cx="891.0" cy="418.0" r="6.35"/><circle cx="894.0" cy="418.0" r="6.35"/><circle cx="897.0" cy="418.0" r="6.35"/><circle cx="900.0" cy="418.0" r="6.35"/><circle cx="903.0" cy="418.0" r="6.35"/><circle cx="906.0" cy="418.0" r="6.35"/><circle cx="909.0" cy="418.0" r="6.35"/><circle cx="912.0" cy="418.0" r="6.35"/><circle cx="915.0" cy="418.0" r="6.35"/><circle cx="918.0" cy="418.0" r="6.35"/><circle cx="921.0" cy="418.0" r="6.35"/><circle cx="924.0" cy="418.0" r="6.35"/><circle cx="927.0" cy="418.0" r="6.35"/><circle cx="930.0" cy="418.0" r="6.35"/><circle cx="933.0" cy="418.0" r="6.35"/><circle cx="936.0" cy="418.0" r="6.35"/><circle cx="939.0" cy="418.0" r="6.35"/><circle cx="942.0" cy="418.0" r="6.35"/><circle cx="789.0" cy="421.0" r="6.35"/><circle cx="792.0" cy="421.0" r="6.35"/><circle cx="795.0" cy="421.0" r="6.35"/><circle cx="798.0" cy="421.0" r="6.35"/><circle cx="801.0" cy="421.0" r="6.35"/><circle cx="804.0" cy="421.0" r="6.35"/><circle cx="807.0" cy="421.0" r="6.35"/><circle cx="810.0" cy="421.0" r="6.35"/><circle cx="813.0" cy="421.0" r="6.35"/><circle cx="816.0" cy="421.0" r="6.35"/><circle cx="819.0" cy="421.0" r="6.35"/><circle cx="822.0" cy="421.0" r="6.35"/><circle cx="825.0" cy="421.0" r="6.35"/><circle cx="828.0" cy="421.0" r="6.35"/><circle cx="831.0" cy="421.0" r="6.35"/><circle cx="834.0" cy="421.0" r="6.35"/><circle cx="837.0" cy="421.0" r="6.35"/><circle cx="840.0" cy="421.0" r="6.35"/><circle cx="843.0" cy="421.0" r="6.35"/><circle cx="846.0" cy="421.0" r="6.35"/><circle cx="849.0" cy="421.0" r="6.35"/><circle cx="852.0" cy="421.0" r="6.35"/><circle cx="855.0" cy="421.0" r="6.35"/><circle cx="858.0" cy="421.0" r="6.35"/><circle cx="861.0" cy="421.0" r="6.35"/><circle cx="864.0" cy="421.0" r="6.35"/><circle cx="867.0" cy="421.0" r="6.35"/><circle cx="870.0" cy="421.0" r="6.35"/><circle cx="873.0" cy="421.0" r="6.35"/><circle cx="876.0" cy="421.0" r="6.35"/><circle cx="879.0" cy="421.0" r="6.35"/><circle cx="882.0" cy="421.0" r="6.35"/><circle cx="885.0" cy="421.0" r="6.35"/><circle cx="888.0" cy="421.0" r="6.35"/><circle cx="891.0" cy="421.0" r="6.35"/><circle cx="894.0" cy="421.0" r="6.35"/><circle cx="897.0" cy="421.0" r="6.35"/><circle cx="900.0" cy="421.0" r="6.35"/><circle cx="903.0" cy="421.0" r="6.35"/><circle cx="906.0" cy="421.0" r="6.35"/><circle cx="909.0" cy="421.0" r="6.35"/><circle cx="912.0" cy="421.0" r="6.35"/><circle cx="915.0" cy="421.0" r="6.35"/><circle cx="918.0" cy="421.0" r="6.35"/><circle cx="921.0" cy="421.0" r="6.35"/><circle cx="924.0" cy="421.0" r="6.35"/><circle cx="927.0" cy="421.0" r="6.35"/><circle cx="930.0" cy="421.0" r="6.35"/><circle cx="933.0" cy="421.0" r="6.35"/><circle cx="936.0" cy="421.0" r="6.35"/><circle cx="939.0" cy="421.0" r="6.35"/><circle cx="942.0" cy="421.0" r="6.35"/><circle cx="945.0" cy="421.0" r="6.35"/><circle cx="795.0" cy="424.0" r="6.35"/><circle cx="798.0" cy="424.0" r="6.35"/><circle cx="801.0" cy="424.0" r="6.35"/><circle cx="804.0" cy="424.0" r="6.35"/><circle cx="807.0" cy="424.0" r="6.35"/><circle cx="810.0" cy="424.0" r="6.35"/><circle cx="813.0" cy="424.0" r="6.35"/><circle cx="816.0" cy="424.0" r="6.35"/><circle cx="819.0" cy="424.0" r="6.35"/><circle cx="822.0" cy="424.0" r="6.35"/><circle cx="825.0" cy="424.0" r="6.35"/><circle cx="828.0" cy="424.0" r="6.35"/><circle cx="831.0" cy="424.0" r="6.35"/><circle cx="834.0" cy="424.0" r="6.35"/><circle cx="837.0" cy="424.0" r="6.35"/><circle cx="840.0" cy="424.0" r="6.35"/><circle cx="843.0" cy="424.0" r="6.35"/><circle cx="846.0" cy="424.0" r="6.35"/><circle cx="849.0" cy="424.0" r="6.35"/><circle cx="852.0" cy="424.0" r="6.35"/><circle cx="855.0" cy="424.0" r="6.35"/><circle cx="858.0" cy="424.0" r="6.35"/><circle cx="861.0" cy="424.0" r="6.35"/><circle cx="864.0" cy="424.0" r="6.35"/><circle cx="867.0" cy="424.0" r="6.35"/><circle cx="870.0" cy="424.0" r="6.35"/><circle cx="873.0" cy="424.0" r="6.35"/><circle cx="876.0" cy="424.0" r="6.35"/><circle cx="879.0" cy="424.0" r="6.35"/><circle cx="882.0" cy="424.0" r="6.35"/><circle cx="885.0" cy="424.0" r="6.35"/><circle cx="888.0" cy="424.0" r="6.35"/><circle cx="891.0" cy="424.0" r="6.35"/><circle cx="894.0" cy="424.0" r="6.35"/><circle cx="897.0" cy="424.0" r="6.35"/><circle cx="900.0" cy="424.0" r="6.35"/><circle cx="903.0" cy="424.0" r="6.35"/><circle cx="906.0" cy="424.0" r="6.35"/><circle cx="909.0" cy="424.0" r="6.35"/><circle cx="912.0" cy="424.0" r="6.35"/><circle cx="915.0" cy="424.0" r="6.35"/><circle cx="918.0" cy="424.0" r="6.35"/><circle cx="921.0" cy="424.0" r="6.35"/><circle cx="924.0" cy="424.0" r="6.35"/><circle cx="927.0" cy="424.0" r="6.35"/><circle cx="930.0" cy="424.0" r="6.35"/><circle cx="933.0" cy="424.0" r="6.35"/><circle cx="936.0" cy="424.0" r="6.35"/><circle cx="939.0" cy="424.0" r="6.35"/><circle cx="942.0" cy="424.0" r="6.35"/><circle cx="945.0" cy="424.0" r="6.35"/><circle cx="798.0" cy="427.0" r="6.35"/><circle cx="801.0" cy="427.0" r="6.35"/><circle cx="804.0" cy="427.0" r="6.35"/><circle cx="807.0" cy="427.0" r="6.35"/><circle cx="810.0" cy="427.0" r="6.35"/><circle cx="813.0" cy="427.0" r="6.35"/><circle cx="816.0" cy="427.0" r="6.35"/><circle cx="819.0" cy="427.0" r="6.35"/><circle cx="822.0" cy="427.0" r="6.35"/><circle cx="825.0" cy="427.0" r="6.35"/><circle cx="828.0" cy="427.0" r="6.35"/><circle cx="831.0" cy="427.0" r="6.35"/><circle cx="834.0" cy="427.0" r="6.35"/><circle cx="837.0" cy="427.0" r="6.35"/><circle cx="840.0" cy="427.0" r="6.35"/><circle cx="843.0" cy="427.0" r="6.35"/><circle cx="846.0" cy="427.0" r="6.35"/><circle cx="849.0" cy="427.0" r="6.35"/><circle cx="852.0" cy="427.0" r="6.35"/><circle cx="855.0" cy="427.0" r="6.35"/><circle cx="858.0" cy="427.0" r="6.35"/><circle cx="861.0" cy="427.0" r="6.35"/><circle cx="864.0" cy="427.0" r="6.35"/><circle cx="867.0" cy="427.0" r="6.35"/><circle cx="870.0" cy="427.0" r="6.35"/><circle cx="873.0" cy="427.0" r="6.35"/><circle cx="876.0" cy="427.0" r="6.35"/><circle cx="879.0" cy="427.0" r="6.35"/><circle cx="882.0" cy="427.0" r="6.35"/><circle cx="885.0" cy="427.0" r="6.35"/><circle cx="888.0" cy="427.0" r="6.35"/><circle cx="891.0" cy="427.0" r="6.35"/><circle cx="894.0" cy="427.0" r="6.35"/><circle cx="897.0" cy="427.0" r="6.35"/><circle cx="900.0" cy="427.0" r="6.35"/><circle cx="903.0" cy="427.0" r="6.35"/><circle cx="906.0" cy="427.0" r="6.35"/><circle cx="909.0" cy="427.0" r="6.35"/><circle cx="912.0" cy="427.0" r="6.35"/><circle cx="915.0" cy="427.0" r="6.35"/><circle cx="918.0" cy="427.0" r="6.35"/><circle cx="921.0" cy="427.0" r="6.35"/><circle cx="924.0" cy="427.0" r="6.35"/><circle cx="927.0" cy="427.0" r="6.35"/><circle cx="930.0" cy="427.0" r="6.35"/><circle cx="933.0" cy="427.0" r="6.35"/><circle cx="936.0" cy="427.0" r="6.35"/><circle cx="939.0" cy="427.0" r="6.35"/><circle cx="942.0" cy="427.0" r="6.35"/><circle cx="945.0" cy="427.0" r="6.35"/><circle cx="798.0" cy="430.0" r="6.35"/><circle cx="801.0" cy="430.0" r="6.35"/><circle cx="804.0" cy="430.0" r="6.35"/><circle cx="807.0" cy="430.0" r="6.35"/><circle cx="810.0" cy="430.0" r="6.35"/><circle cx="813.0" cy="430.0" r="6.35"/><circle cx="816.0" cy="430.0" r="6.35"/><circle cx="819.0" cy="430.0" r="6.35"/><circle cx="822.0" cy="430.0" r="6.35"/><circle cx="825.0" cy="430.0" r="6.35"/><circle cx="828.0" cy="430.0" r="6.35"/><circle cx="831.0" cy="430.0" r="6.35"/><circle cx="834.0" cy="430.0" r="6.35"/><circle cx="837.0" cy="430.0" r="6.35"/><circle cx="840.0" cy="430.0" r="6.35"/><circle cx="843.0" cy="430.0" r="6.35"/><circle cx="846.0" cy="430.0" r="6.35"/><circle cx="849.0" cy="430.0" r="6.35"/><circle cx="852.0" cy="430.0" r="6.35"/><circle cx="855.0" cy="430.0" r="6.35"/><circle cx="858.0" cy="430.0" r="6.35"/><circle cx="861.0" cy="430.0" r="6.35"/><circle cx="864.0" cy="430.0" r="6.35"/><circle cx="867.0" cy="430.0" r="6.35"/><circle cx="870.0" cy="430.0" r="6.35"/><circle cx="873.0" cy="430.0" r="6.35"/><circle cx="876.0" cy="430.0" r="6.35"/><circle cx="879.0" cy="430.0" r="6.35"/><circle cx="882.0" cy="430.0" r="6.35"/><circle cx="885.0" cy="430.0" r="6.35"/><circle cx="888.0" cy="430.0" r="6.35"/><circle cx="891.0" cy="430.0" r="6.35"/><circle cx="894.0" cy="430.0" r="6.35"/><circle cx="897.0" cy="430.0" r="6.35"/><circle cx="900.0" cy="430.0" r="6.35"/><circle cx="903.0" cy="430.0" r="6.35"/><circle cx="906.0" cy="430.0" r="6.35"/><circle cx="909.0" cy="430.0" r="6.35"/><circle cx="912.0" cy="430.0" r="6.35"/><circle cx="915.0" cy="430.0" r="6.35"/><circle cx="918.0" cy="430.0" r="6.35"/><circle cx="921.0" cy="430.0" r="6.35"/><circle cx="924.0" cy="430.0" r="6.35"/><circle cx="927.0" cy="430.0" r="6.35"/><circle cx="930.0" cy="430.0" r="6.35"/><circle cx="933.0" cy="430.0" r="6.35"/><circle cx="936.0" cy="430.0" r="6.35"/><circle cx="939.0" cy="430.0" r="6.35"/><circle cx="942.0" cy="430.0" r="6.35"/><circle cx="945.0" cy="430.0" r="6.35"/><circle cx="798.0" cy="433.0" r="6.35"/><circle cx="801.0" cy="433.0" r="6.35"/><circle cx="804.0" cy="433.0" r="6.35"/><circle cx="807.0" cy="433.0" r="6.35"/><circle cx="810.0" cy="433.0" r="6.35"/><circle cx="813.0" cy="433.0" r="6.35"/><circle cx="816.0" cy="433.0" r="6.35"/><circle cx="819.0" cy="433.0" r="6.35"/><circle cx="822.0" cy="433.0" r="6.35"/><circle cx="825.0" cy="433.0" r="6.35"/><circle cx="828.0" cy="433.0" r="6.35"/><circle cx="831.0" cy="433.0" r="6.35"/><circle cx="834.0" cy="433.0" r="6.35"/><circle cx="837.0" cy="433.0" r="6.35"/><circle cx="840.0" cy="433.0" r="6.35"/><circle cx="843.0" cy="433.0" r="6.35"/><circle cx="846.0" cy="433.0" r="6.35"/><circle cx="849.0" cy="433.0" r="6.35"/><circle cx="852.0" cy="433.0" r="6.35"/><circle cx="855.0" cy="433.0" r="6.35"/><circle cx="858.0" cy="433.0" r="6.35"/><circle cx="861.0" cy="433.0" r="6.35"/><circle cx="864.0" cy="433.0" r="6.35"/><circle cx="867.0" cy="433.0" r="6.35"/><circle cx="870.0" cy="433.0" r="6.35"/><circle cx="873.0" cy="433.0" r="6.35"/><circle cx="876.0" cy="433.0" r="6.35"/><circle cx="879.0" cy="433.0" r="6.35"/><circle cx="882.0" cy="433.0" r="6.35"/><circle cx="885.0" cy="433.0" r="6.35"/><circle cx="888.0" cy="433.0" r="6.35"/><circle cx="891.0" cy="433.0" r="6.35"/><circle cx="894.0" cy="433.0" r="6.35"/><circle cx="897.0" cy="433.0" r="6.35"/><circle cx="900.0" cy="433.0" r="6.35"/><circle cx="903.0" cy="433.0" r="6.35"/><circle cx="906.0" cy="433.0" r="6.35"/><circle cx="909.0" cy="433.0" r="6.35"/><circle cx="912.0" cy="433.0" r="6.35"/><circle cx="915.0" cy="433.0" r="6.35"/><circle cx="918.0" cy="433.0" r="6.35"/><circle cx="921.0" cy="433.0" r="6.35"/><circle cx="924.0" cy="433.0" r="6.35"/><circle cx="927.0" cy="433.0" r="6.35"/><circle cx="939.0" cy="433.0" r="6.35"/><circle cx="942.0" cy="433.0" r="6.35"/><circle cx="945.0" cy="433.0" r="6.35"/><circle cx="798.0" cy="436.0" r="6.35"/><circle cx="801.0" cy="436.0" r="6.35"/><circle cx="804.0" cy="436.0" r="6.35"/><circle cx="807.0" cy="436.0" r="6.35"/><circle cx="810.0" cy="436.0" r="6.35"/><circle cx="813.0" cy="436.0" r="6.35"/><circle cx="816.0" cy="436.0" r="6.35"/><circle cx="819.0" cy="436.0" r="6.35"/><circle cx="822.0" cy="436.0" r="6.35"/><circle cx="825.0" cy="436.0" r="6.35"/><circle cx="828.0" cy="436.0" r="6.35"/><circle cx="831.0" cy="436.0" r="6.35"/><circle cx="834.0" cy="436.0" r="6.35"/><circle cx="837.0" cy="436.0" r="6.35"/><circle cx="840.0" cy="436.0" r="6.35"/><circle cx="843.0" cy="436.0" r="6.35"/><circle cx="846.0" cy="436.0" r="6.35"/><circle cx="849.0" cy="436.0" r="6.35"/><circle cx="852.0" cy="436.0" r="6.35"/><circle cx="855.0" cy="436.0" r="6.35"/><circle cx="858.0" cy="436.0" r="6.35"/><circle cx="861.0" cy="436.0" r="6.35"/><circle cx="864.0" cy="436.0" r="6.35"/><circle cx="867.0" cy="436.0" r="6.35"/><circle cx="870.0" cy="436.0" r="6.35"/><circle cx="873.0" cy="436.0" r="6.35"/><circle cx="876.0" cy="436.0" r="6.35"/><circle cx="879.0" cy="436.0" r="6.35"/><circle cx="882.0" cy="436.0" r="6.35"/><circle cx="885.0" cy="436.0" r="6.35"/><circle cx="888.0" cy="436.0" r="6.35"/><circle cx="891.0" cy="436.0" r="6.35"/><circle cx="894.0" cy="436.0" r="6.35"/><circle cx="897.0" cy="436.0" r="6.35"/><circle cx="900.0" cy="436.0" r="6.35"/><circle cx="912.0" cy="436.0" r="6.35"/><circle cx="915.0" cy="436.0" r="6.35"/><circle cx="918.0" cy="436.0" r="6.35"/><circle cx="921.0" cy="436.0" r="6.35"/><circle cx="924.0" cy="436.0" r="6.35"/><circle cx="927.0" cy="436.0" r="6.35"/><circle cx="942.0" cy="436.0" r="6.35"/><circle cx="945.0" cy="436.0" r="6.35"/><circle cx="804.0" cy="439.0" r="6.35"/><circle cx="807.0" cy="439.0" r="6.35"/><circle cx="810.0" cy="439.0" r="6.35"/><circle cx="813.0" cy="439.0" r="6.35"/><circle cx="816.0" cy="439.0" r="6.35"/><circle cx="819.0" cy="439.0" r="6.35"/><circle cx="822.0" cy="439.0" r="6.35"/><circle cx="825.0" cy="439.0" r="6.35"/><circle cx="828.0" cy="439.0" r="6.35"/><circle cx="831.0" cy="439.0" r="6.35"/><circle cx="834.0" cy="439.0" r="6.35"/><circle cx="837.0" cy="439.0" r="6.35"/><circle cx="840.0" cy="439.0" r="6.35"/><circle cx="843.0" cy="439.0" r="6.35"/><circle cx="846.0" cy="439.0" r="6.35"/><circle cx="849.0" cy="439.0" r="6.35"/><circle cx="852.0" cy="439.0" r="6.35"/><circle cx="855.0" cy="439.0" r="6.35"/><circle cx="858.0" cy="439.0" r="6.35"/><circle cx="861.0" cy="439.0" r="6.35"/><circle cx="864.0" cy="439.0" r="6.35"/><circle cx="867.0" cy="439.0" r="6.35"/><circle cx="870.0" cy="439.0" r="6.35"/><circle cx="873.0" cy="439.0" r="6.35"/><circle cx="876.0" cy="439.0" r="6.35"/><circle cx="879.0" cy="439.0" r="6.35"/><circle cx="882.0" cy="439.0" r="6.35"/><circle cx="885.0" cy="439.0" r="6.35"/><circle cx="888.0" cy="439.0" r="6.35"/><circle cx="891.0" cy="439.0" r="6.35"/><circle cx="894.0" cy="439.0" r="6.35"/><circle cx="897.0" cy="439.0" r="6.35"/><circle cx="915.0" cy="439.0" r="6.35"/><circle cx="918.0" cy="439.0" r="6.35"/><circle cx="921.0" cy="439.0" r="6.35"/><circle cx="924.0" cy="439.0" r="6.35"/><circle cx="927.0" cy="439.0" r="6.35"/><circle cx="945.0" cy="439.0" r="6.35"/><circle cx="813.0" cy="442.0" r="6.35"/><circle cx="816.0" cy="442.0" r="6.35"/><circle cx="819.0" cy="442.0" r="6.35"/><circle cx="822.0" cy="442.0" r="6.35"/><circle cx="825.0" cy="442.0" r="6.35"/><circle cx="828.0" cy="442.0" r="6.35"/><circle cx="831.0" cy="442.0" r="6.35"/><circle cx="834.0" cy="442.0" r="6.35"/><circle cx="837.0" cy="442.0" r="6.35"/><circle cx="840.0" cy="442.0" r="6.35"/><circle cx="843.0" cy="442.0" r="6.35"/><circle cx="846.0" cy="442.0" r="6.35"/><circle cx="849.0" cy="442.0" r="6.35"/><circle cx="852.0" cy="442.0" r="6.35"/><circle cx="855.0" cy="442.0" r="6.35"/><circle cx="858.0" cy="442.0" r="6.35"/><circle cx="861.0" cy="442.0" r="6.35"/><circle cx="864.0" cy="442.0" r="6.35"/><circle cx="867.0" cy="442.0" r="6.35"/><circle cx="870.0" cy="442.0" r="6.35"/><circle cx="873.0" cy="442.0" r="6.35"/><circle cx="876.0" cy="442.0" r="6.35"/><circle cx="879.0" cy="442.0" r="6.35"/><circle cx="882.0" cy="442.0" r="6.35"/><circle cx="885.0" cy="442.0" r="6.35"/><circle cx="888.0" cy="442.0" r="6.35"/><circle cx="891.0" cy="442.0" r="6.35"/><circle cx="894.0" cy="442.0" r="6.35"/><circle cx="918.0" cy="442.0" r="6.35"/><circle cx="921.0" cy="442.0" r="6.35"/><circle cx="924.0" cy="442.0" r="6.35"/><circle cx="927.0" cy="442.0" r="6.35"/><circle cx="945.0" cy="442.0" r="6.35"/><circle cx="816.0" cy="445.0" r="6.35"/><circle cx="819.0" cy="445.0" r="6.35"/><circle cx="822.0" cy="445.0" r="6.35"/><circle cx="825.0" cy="445.0" r="6.35"/><circle cx="828.0" cy="445.0" r="6.35"/><circle cx="831.0" cy="445.0" r="6.35"/><circle cx="834.0" cy="445.0" r="6.35"/><circle cx="837.0" cy="445.0" r="6.35"/><circle cx="840.0" cy="445.0" r="6.35"/><circle cx="843.0" cy="445.0" r="6.35"/><circle cx="846.0" cy="445.0" r="6.35"/><circle cx="849.0" cy="445.0" r="6.35"/><circle cx="852.0" cy="445.0" r="6.35"/><circle cx="855.0" cy="445.0" r="6.35"/><circle cx="858.0" cy="445.0" r="6.35"/><circle cx="861.0" cy="445.0" r="6.35"/><circle cx="864.0" cy="445.0" r="6.35"/><circle cx="867.0" cy="445.0" r="6.35"/><circle cx="870.0" cy="445.0" r="6.35"/><circle cx="873.0" cy="445.0" r="6.35"/><circle cx="876.0" cy="445.0" r="6.35"/><circle cx="879.0" cy="445.0" r="6.35"/><circle cx="882.0" cy="445.0" r="6.35"/><circle cx="885.0" cy="445.0" r="6.35"/><circle cx="888.0" cy="445.0" r="6.35"/><circle cx="891.0" cy="445.0" r="6.35"/><circle cx="894.0" cy="445.0" r="6.35"/><circle cx="918.0" cy="445.0" r="6.35"/><circle cx="921.0" cy="445.0" r="6.35"/><circle cx="819.0" cy="448.0" r="6.35"/><circle cx="822.0" cy="448.0" r="6.35"/><circle cx="825.0" cy="448.0" r="6.35"/><circle cx="828.0" cy="448.0" r="6.35"/><circle cx="831.0" cy="448.0" r="6.35"/><circle cx="834.0" cy="448.0" r="6.35"/><circle cx="837.0" cy="448.0" r="6.35"/><circle cx="840.0" cy="448.0" r="6.35"/><circle cx="843.0" cy="448.0" r="6.35"/><circle cx="846.0" cy="448.0" r="6.35"/><circle cx="849.0" cy="448.0" r="6.35"/><circle cx="852.0" cy="448.0" r="6.35"/><circle cx="855.0" cy="448.0" r="6.35"/><circle cx="858.0" cy="448.0" r="6.35"/><circle cx="861.0" cy="448.0" r="6.35"/><circle cx="864.0" cy="448.0" r="6.35"/><circle cx="867.0" cy="448.0" r="6.35"/><circle cx="870.0" cy="448.0" r="6.35"/><circle cx="873.0" cy="448.0" r="6.35"/><circle cx="876.0" cy="448.0" r="6.35"/><circle cx="879.0" cy="448.0" r="6.35"/><circle cx="882.0" cy="448.0" r="6.35"/><circle cx="885.0" cy="448.0" r="6.35"/><circle cx="888.0" cy="448.0" r="6.35"/><circle cx="891.0" cy="448.0" r="6.35"/><circle cx="894.0" cy="448.0" r="6.35"/><circle cx="822.0" cy="451.0" r="6.35"/><circle cx="825.0" cy="451.0" r="6.35"/><circle cx="828.0" cy="451.0" r="6.35"/><circle cx="831.0" cy="451.0" r="6.35"/><circle cx="834.0" cy="451.0" r="6.35"/><circle cx="837.0" cy="451.0" r="6.35"/><circle cx="840.0" cy="451.0" r="6.35"/><circle cx="843.0" cy="451.0" r="6.35"/><circle cx="846.0" cy="451.0" r="6.35"/><circle cx="855.0" cy="451.0" r="6.35"/><circle cx="858.0" cy="451.0" r="6.35"/><circle cx="861.0" cy="451.0" r="6.35"/><circle cx="864.0" cy="451.0" r="6.35"/><circle cx="867.0" cy="451.0" r="6.35"/><circle cx="870.0" cy="451.0" r="6.35"/><circle cx="873.0" cy="451.0" r="6.35"/><circle cx="876.0" cy="451.0" r="6.35"/><circle cx="879.0" cy="451.0" r="6.35"/><circle cx="882.0" cy="451.0" r="6.35"/><circle cx="885.0" cy="451.0" r="6.35"/><circle cx="888.0" cy="451.0" r="6.35"/><circle cx="891.0" cy="451.0" r="6.35"/><circle cx="894.0" cy="451.0" r="6.35"/><circle cx="825.0" cy="454.0" r="6.35"/><circle cx="828.0" cy="454.0" r="6.35"/><circle cx="831.0" cy="454.0" r="6.35"/><circle cx="834.0" cy="454.0" r="6.35"/><circle cx="837.0" cy="454.0" r="6.35"/><circle cx="840.0" cy="454.0" r="6.35"/><circle cx="858.0" cy="454.0" r="6.35"/><circle cx="861.0" cy="454.0" r="6.35"/><circle cx="864.0" cy="454.0" r="6.35"/><circle cx="867.0" cy="454.0" r="6.35"/><circle cx="870.0" cy="454.0" r="6.35"/><circle cx="873.0" cy="454.0" r="6.35"/><circle cx="876.0" cy="454.0" r="6.35"/><circle cx="879.0" cy="454.0" r="6.35"/><circle cx="882.0" cy="454.0" r="6.35"/><circle cx="885.0" cy="454.0" r="6.35"/><circle cx="888.0" cy="454.0" r="6.35"/><circle cx="891.0" cy="454.0" r="6.35"/><circle cx="894.0" cy="454.0" r="6.35"/><circle cx="897.0" cy="454.0" r="6.35"/><circle cx="915.0" cy="454.0" r="6.35"/><circle cx="825.0" cy="457.0" r="6.35"/><circle cx="828.0" cy="457.0" r="6.35"/><circle cx="831.0" cy="457.0" r="6.35"/><circle cx="834.0" cy="457.0" r="6.35"/><circle cx="837.0" cy="457.0" r="6.35"/><circle cx="858.0" cy="457.0" r="6.35"/><circle cx="861.0" cy="457.0" r="6.35"/><circle cx="864.0" cy="457.0" r="6.35"/><circle cx="867.0" cy="457.0" r="6.35"/><circle cx="870.0" cy="457.0" r="6.35"/><circle cx="873.0" cy="457.0" r="6.35"/><circle cx="876.0" cy="457.0" r="6.35"/><circle cx="879.0" cy="457.0" r="6.35"/><circle cx="882.0" cy="457.0" r="6.35"/><circle cx="885.0" cy="457.0" r="6.35"/><circle cx="888.0" cy="457.0" r="6.35"/><circle cx="891.0" cy="457.0" r="6.35"/><circle cx="909.0" cy="457.0" r="6.35"/><circle cx="912.0" cy="457.0" r="6.35"/><circle cx="915.0" cy="457.0" r="6.35"/><circle cx="828.0" cy="460.0" r="6.35"/><circle cx="831.0" cy="460.0" r="6.35"/><circle cx="858.0" cy="460.0" r="6.35"/><circle cx="861.0" cy="460.0" r="6.35"/><circle cx="864.0" cy="460.0" r="6.35"/><circle cx="867.0" cy="460.0" r="6.35"/><circle cx="873.0" cy="460.0" r="6.35"/><circle cx="876.0" cy="460.0" r="6.35"/><circle cx="879.0" cy="460.0" r="6.35"/><circle cx="882.0" cy="460.0" r="6.35"/><circle cx="885.0" cy="460.0" r="6.35"/><circle cx="888.0" cy="460.0" r="6.35"/><circle cx="906.0" cy="460.0" r="6.35"/><circle cx="909.0" cy="460.0" r="6.35"/><circle cx="912.0" cy="460.0" r="6.35"/><circle cx="915.0" cy="460.0" r="6.35"/><circle cx="918.0" cy="460.0" r="6.35"/><circle cx="858.0" cy="463.0" r="6.35"/><circle cx="861.0" cy="463.0" r="6.35"/><circle cx="879.0" cy="463.0" r="6.35"/><circle cx="882.0" cy="463.0" r="6.35"/><circle cx="885.0" cy="463.0" r="6.35"/><circle cx="906.0" cy="463.0" r="6.35"/><circle cx="909.0" cy="463.0" r="6.35"/><circle cx="912.0" cy="463.0" r="6.35"/><circle cx="915.0" cy="463.0" r="6.35"/><circle cx="918.0" cy="463.0" r="6.35"/><circle cx="852.0" cy="466.0" r="6.35"/><circle cx="855.0" cy="466.0" r="6.35"/><circle cx="858.0" cy="466.0" r="6.35"/><circle cx="879.0" cy="466.0" r="6.35"/><circle cx="882.0" cy="466.0" r="6.35"/><circle cx="885.0" cy="466.0" r="6.35"/><circle cx="906.0" cy="466.0" r="6.35"/><circle cx="909.0" cy="466.0" r="6.35"/><circle cx="912.0" cy="466.0" r="6.35"/><circle cx="915.0" cy="466.0" r="6.35"/><circle cx="918.0" cy="466.0" r="6.35"/><circle cx="849.0" cy="469.0" r="6.35"/><circle cx="852.0" cy="469.0" r="6.35"/><circle cx="855.0" cy="469.0" r="6.35"/><circle cx="858.0" cy="469.0" r="6.35"/><circle cx="879.0" cy="469.0" r="6.35"/><circle cx="882.0" cy="469.0" r="6.35"/><circle cx="885.0" cy="469.0" r="6.35"/><circle cx="900.0" cy="469.0" r="6.35"/><circle cx="903.0" cy="469.0" r="6.35"/><circle cx="906.0" cy="469.0" r="6.35"/><circle cx="909.0" cy="469.0" r="6.35"/><circle cx="912.0" cy="469.0" r="6.35"/><circle cx="915.0" cy="469.0" r="6.35"/><circle cx="918.0" cy="469.0" r="6.35"/><circle cx="843.0" cy="472.0" r="6.35"/><circle cx="846.0" cy="472.0" r="6.35"/><circle cx="849.0" cy="472.0" r="6.35"/><circle cx="852.0" cy="472.0" r="6.35"/><circle cx="855.0" cy="472.0" r="6.35"/><circle cx="858.0" cy="472.0" r="6.35"/><circle cx="879.0" cy="472.0" r="6.35"/><circle cx="882.0" cy="472.0" r="6.35"/><circle cx="885.0" cy="472.0" r="6.35"/><circle cx="888.0" cy="472.0" r="6.35"/><circle cx="891.0" cy="472.0" r="6.35"/><circle cx="906.0" cy="472.0" r="6.35"/><circle cx="909.0" cy="472.0" r="6.35"/><circle cx="912.0" cy="472.0" r="6.35"/><circle cx="915.0" cy="472.0" r="6.35"/><circle cx="918.0" cy="472.0" r="6.35"/><circle cx="849.0" cy="475.0" r="6.35"/><circle cx="852.0" cy="475.0" r="6.35"/><circle cx="855.0" cy="475.0" r="6.35"/><circle cx="858.0" cy="475.0" r="6.35"/><circle cx="858.0" cy="478.0" r="6.35"/><circle cx="861.0" cy="478.0" r="6.35"/><circle cx="765.3" cy="144.2" r="6.35"/><circle cx="950.5" cy="151.2" r="6.35"/><circle cx="987.5" cy="82.8" r="6.35"/><circle cx="968.3" cy="117.3" r="6.35"/><circle cx="1008.7" cy="142.3" r="6.35"/><circle cx="1055.8" cy="150.3" r="6.35"/><circle cx="1048.3" cy="156.7" r="6.35"/><circle cx="1087.2" cy="147.2" r="6.35"/><circle cx="900.8" cy="168.3" r="6.35"/><circle cx="849.8" cy="207" r="6.35"/><circle cx="876.7" cy="204.2" r="6.35"/><circle cx="891.2" cy="209.5" r="6.35"/><circle cx="864" cy="227.8" r="6.35"/><circle cx="890.8" cy="226.7" r="6.35"/><circle cx="942" cy="239.7" r="6.35"/><circle cx="949.8" cy="234.6" r="6.35"/><circle cx="950.5" cy="251.2" r="6.35"/><circle cx="941" cy="257.3" r="6.35"/><circle cx="958.3" cy="173.7" r="6.35"/><circle cx="1012.5" cy="170.8" r="6.35"/><circle cx="966" cy="186" r="6.35"/><circle cx="990.2" cy="185.2" r="6.35"/><circle cx="1007.2" cy="195.8" r="6.35"/><circle cx="966.3" cy="208.5" r="6.35"/><circle cx="980.2" cy="208" r="6.35"/><circle cx="984.2" cy="208.5" r="6.35"/><circle cx="978.8" cy="216.3" r="6.35"/><circle cx="1002.8" cy="220.8" r="6.35"/><circle cx="1026" cy="211.5" r="6.35"/><circle cx="1034.3" cy="203.2" r="6.35"/><circle cx="1041.3" cy="210.5" r="6.35"/><circle cx="1043.8" cy="216" r="6.35"/><circle cx="1036.8" cy="223.7" r="6.35"/><circle cx="1055.2" cy="212.8" r="6.35"/><circle cx="1067.7" cy="215.5" r="6.35"/><circle cx="1080.8" cy="214.7" r="6.35"/><circle cx="1102.5" cy="216.7" r="6.35"/><circle cx="1123.8" cy="208.8" r="6.35"/><circle cx="1125" cy="226.3" r="6.35"/><circle cx="1150.3" cy="195.5" r="6.35"/><circle cx="1154.7" cy="220.5" r="6.35"/><circle cx="1165.7" cy="233.7" r="6.35"/><circle cx="979.2" cy="229.3" r="6.35"/><circle cx="983.2" cy="236.3" r="6.35"/><circle cx="1048" cy="230.8" r="6.35"/><circle cx="1060.8" cy="232.2" r="6.35"/><circle cx="1011.7" cy="239" r="6.35"/><circle cx="1025" cy="239" r="6.35"/><circle cx="1192.8" cy="216.8" r="6.35"/><circle cx="1201" cy="229.2" r="6.35"/><circle cx="869.8" cy="266.5" r="6.35"/><circle cx="918.2" cy="265.3" r="6.35"/><circle cx="917.3" cy="279.5" r="6.35"/><circle cx="921.2" cy="286" r="6.35"/><circle cx="952.8" cy="276.2" r="6.35"/><circle cx="921.2" cy="305.7" r="6.35"/><circle cx="904" cy="312.5" r="6.35"/><circle cx="946" cy="316.3" r="6.35"/><circle cx="803.2" cy="328.8" r="6.35"/><circle cx="940.2" cy="329.8" r="6.35"/><circle cx="915.3" cy="330.7" r="6.35"/><circle cx="910.7" cy="334" r="6.35"/><circle cx="900.7" cy="339" r="6.35"/><circle cx="864.6" cy="335.7" r="6.35"/><circle cx="854" cy="342" r="6.35"/><circle cx="799" cy="339" r="6.35"/><circle cx="793" cy="341.8" r="6.35"/><circle cx="880.5" cy="344" r="6.35"/><circle cx="927.2" cy="344.5" r="6.35"/><circle cx="963.8" cy="253.5" r="6.35"/><circle cx="971" cy="257.7" r="6.35"/><circle cx="977.2" cy="264.8" r="6.35"/><circle cx="985.5" cy="263.7" r="6.35"/><circle cx="1007.7" cy="257.7" r="6.35"/><circle cx="1024.7" cy="256.8" r="6.35"/><circle cx="1029.2" cy="247.5" r="6.35"/><circle cx="1034.2" cy="245.4" r="6.35"/><circle cx="1031.7" cy="255" r="6.35"/><circle cx="1036.7" cy="254.2" r="6.35"/><circle cx="1047.2" cy="260.2" r="6.35"/><circle cx="1072.6" cy="246.3" r="6.35"/><circle cx="1076.2" cy="250" r="6.35"/><circle cx="1093" cy="249.8" r="6.35"/><circle cx="1103" cy="254" r="6.35"/><circle cx="1106.3" cy="259.8" r="6.35"/><circle cx="1111.3" cy="253.2" r="6.35"/><circle cx="1115.5" cy="246.0" r="6.35"/><circle cx="1094.7" cy="265.7" r="6.35"/><circle cx="1122.8" cy="269.3" r="6.35"/><circle cx="1085.8" cy="277.2" r="6.35"/><circle cx="1130.5" cy="285.3" r="6.35"/><circle cx="1147.3" cy="282.2" r="6.35"/><circle cx="1151.5" cy="287.2" r="6.35"/><circle cx="1181.3" cy="286.8" r="6.35"/><circle cx="1170.3" cy="298" r="6.35"/><circle cx="1129.3" cy="298.2" r="6.35"/><circle cx="1140.4" cy="303.2" r="6.35"/><circle cx="1136.1" cy="313.2" r="6.35"/><circle cx="1124.8" cy="313.2" r="6.35"/><circle cx="1112.2" cy="312.3" r="6.35"/><circle cx="1162.6" cy="319.8" r="6.35"/><circle cx="1098.5" cy="318.2" r="6.35"/><circle cx="1081.8" cy="320.2" r="6.35"/><circle cx="1098.8" cy="291.5" r="6.35"/><circle cx="1108" cy="291.5" r="6.35"/><circle cx="1053" cy="279.8" r="6.35"/><circle cx="1055.5" cy="286.5" r="6.35"/><circle cx="1061.3" cy="288.2" r="6.35"/><circle cx="1069.7" cy="290.7" r="6.35"/><circle cx="1027.2" cy="267.3" r="6.35"/><circle cx="1033" cy="269" r="6.35"/><circle cx="1039.7" cy="270.7" r="6.35"/><circle cx="1029.7" cy="275.7" r="6.35"/><circle cx="1024.7" cy="282.3" r="6.35"/><circle cx="1015.5" cy="274.8" r="6.35"/><circle cx="1009.7" cy="281.5" r="6.35"/><circle cx="1002.2" cy="284.8" r="6.35"/><circle cx="993" cy="286.5" r="6.35"/><circle cx="991.7" cy="273.2" r="6.35"/><circle cx="978" cy="277.3" r="6.35"/><circle cx="959.7" cy="276.5" r="6.35"/><circle cx="957.9" cy="290.4" r="6.35"/><circle cx="971.7" cy="294.6" r="6.35"/><circle cx="960.5" cy="301.2" r="6.35"/><circle cx="973.3" cy="302.5" r="6.35"/><circle cx="956" cy="310.4" r="6.35"/><circle cx="987.2" cy="316" r="6.35"/><circle cx="961.3" cy="321.5" r="6.35"/><circle cx="1028.8" cy="308.5" r="6.35"/><circle cx="1038" cy="309" r="6.35"/><circle cx="1053.8" cy="313.2" r="6.35"/><circle cx="1049.7" cy="308.2" r="6.35"/><circle cx="1057.2" cy="305.7" r="6.35"/><circle cx="1017.2" cy="299.8" r="6.35"/><circle cx="1004.7" cy="300.7" r="6.35"/><circle cx="994.7" cy="329.8" r="6.35"/><circle cx="1011" cy="327.5" r="6.35"/><circle cx="1019.7" cy="334.1" r="6.35"/><circle cx="973.8" cy="329.8" r="6.35"/><circle cx="968.8" cy="337.4" r="6.35"/><circle cx="979.3" cy="339.4" r="6.35"/><circle cx="1039.7" cy="342" r="6.35"/><circle cx="1059.7" cy="340.8" r="6.35"/><circle cx="1080.5" cy="338.8" r="6.35"/><circle cx="1090.5" cy="341.6" r="6.35"/><circle cx="1114.9" cy="330.5" r="6.35"/><circle cx="1116.8" cy="334.5" r="6.35"/><circle cx="1112.5" cy="339.5" r="6.35"/><circle cx="1236.2" cy="256.5" r="6.35"/><circle cx="1236.7" cy="269.3" r="6.35"/><circle cx="1140.8" cy="311.5" r="6.35"/><circle cx="1209.2" cy="312.3" r="6.35"/><circle cx="1206.7" cy="321.5" r="6.35"/><circle cx="1301.8" cy="331.2" r="6.35"/><circle cx="1192.5" cy="340" r="6.35"/><circle cx="1181" cy="346.2" r="6.35"/><circle cx="1158.7" cy="354.7" r="6.35"/><circle cx="1154.7" cy="372.3" r="6.35"/><circle cx="1197.7" cy="368.5" r="6.35"/><circle cx="1221.7" cy="365.5" r="6.35"/><circle cx="1220" cy="370.8" r="6.35"/><circle cx="1124.7" cy="385.3" r="6.35"/><circle cx="1150" cy="393.3" r="6.35"/><circle cx="1170" cy="396.2" r="6.35"/><circle cx="1180.8" cy="390.5" r="6.35"/><circle cx="1054.3" cy="348.7" r="6.35"/><circle cx="1031.3" cy="350.8" r="6.35"/><circle cx="1034.7" cy="355" r="6.35"/><circle cx="1039.7" cy="360.8" r="6.35"/><circle cx="1047.2" cy="365" r="6.35"/><circle cx="1051.3" cy="363.3" r="6.35"/><circle cx="1094.7" cy="345" r="6.35"/><circle cx="1090.5" cy="348.7" r="6.35"/><circle cx="1109.7" cy="343.7" r="6.35"/><circle cx="1119.7" cy="349.2" r="6.35"/><circle cx="1119.9" cy="359.5" r="6.35"/><circle cx="1110.2" cy="394.2" r="6.35"/><circle cx="1099.2" cy="401.7" r="6.35"/><circle cx="1108.5" cy="406.3" r="6.35"/><circle cx="1088" cy="384.5" r="6.35"/><circle cx="1076.7" cy="410" r="6.35"/><circle cx="1068.8" cy="423.7" r="6.35"/><circle cx="1076" cy="359.7" r="6.35"/><circle cx="1084.7" cy="360.8" r="6.35"/><circle cx="1076.3" cy="369.7" r="6.35"/><circle cx="1068" cy="370.8" r="6.35"/><circle cx="1088.8" cy="367.5" r="6.35"/><circle cx="1093" cy="370" r="6.35"/><circle cx="1049.7" cy="385.3" r="6.35"/><circle cx="1042.7" cy="391.7" r="6.35"/><circle cx="1030.8" cy="407.7" r="6.35"/><circle cx="1029.7" cy="368.7" r="6.35"/><circle cx="1028" cy="373.7" r="6.35"/><circle cx="1030.5" cy="375.8" r="6.35"/><circle cx="1006.7" cy="355" r="6.35"/><circle cx="999.7" cy="358" r="6.35"/><circle cx="1008.8" cy="363.3" r="6.35"/><circle cx="1013.3" cy="370.5" r="6.35"/><circle cx="1007.2" cy="380.8" r="6.35"/><circle cx="987.5" cy="370.5" r="6.35"/><circle cx="991" cy="382" r="6.35"/><circle cx="975.8" cy="378.7" r="6.35"/><circle cx="965" cy="361.7" r="6.35"/><circle cx="959.3" cy="377.5" r="6.35"/><circle cx="958" cy="386.7" r="6.35"/><circle cx="954.7" cy="390.8" r="6.35"/><circle cx="969.7" cy="393.3" r="6.35"/><circle cx="962.2" cy="397.5" r="6.35"/><circle cx="958" cy="402.5" r="6.35"/><circle cx="967.2" cy="412.5" r="6.35"/><circle cx="952" cy="361.7" r="6.35"/><circle cx="952" cy="421.5" r="6.35"/><circle cx="1008" cy="436.8" r="6.35"/><circle cx="971.8" cy="431.8" r="6.35"/><circle cx="978" cy="458.5" r="6.35"/><circle cx="955.5" cy="457.7" r="6.35"/><circle cx="954.7" cy="469" r="6.35"/><circle cx="951.3" cy="427.7" r="6.35"/><circle cx="951.3" cy="446" r="6.35"/><circle cx="793.6" cy="351.7" r="6.35"/><circle cx="769.8" cy="388.7" r="6.35"/><circle cx="773.7" cy="390.3" r="6.35"/><circle cx="781.7" cy="408" r="6.35"/><circle cx="807.3" cy="362.5" r="6.35"/><circle cx="800.7" cy="372.5" r="6.35"/><circle cx="796.5" cy="380.8" r="6.35"/><circle cx="819" cy="360" r="6.35"/><circle cx="829" cy="361.7" r="6.35"/><circle cx="837.3" cy="359.2" r="6.35"/><circle cx="845.7" cy="360" r="6.35"/><circle cx="857.3" cy="357.5" r="6.35"/><circle cx="862.3" cy="346.7" r="6.35"/><circle cx="867.3" cy="352.5" r="6.35"/><circle cx="888.2" cy="346.7" r="6.35"/><circle cx="884" cy="351.7" r="6.35"/><circle cx="892.3" cy="356.7" r="6.35"/><circle cx="904" cy="348.3" r="6.35"/><circle cx="912.3" cy="355" r="6.35"/><circle cx="926.5" cy="351.7" r="6.35"/><circle cx="927.3" cy="358.3" r="6.35"/><circle cx="940.7" cy="330" r="6.35"/><circle cx="949" cy="362.5" r="6.35"/><circle cx="945.7" cy="375" r="6.35"/><circle cx="935.7" cy="386.7" r="6.35"/><circle cx="952.3" cy="390" r="6.35"/><circle cx="909.2" cy="355.8" r="6.35"/><circle cx="915" cy="362.5" r="6.35"/><circle cx="920" cy="367.5" r="6.35"/><circle cx="923.3" cy="371.7" r="6.35"/><circle cx="804.2" cy="379.2" r="6.35"/><circle cx="808.3" cy="387.5" r="6.35"/><circle cx="824.2" cy="380.7" r="6.35"/><circle cx="828.3" cy="374.2" r="6.35"/><circle cx="820" cy="386.7" r="6.35"/><circle cx="794.2" cy="405" r="6.35"/><circle cx="800" cy="400" r="6.35"/><circle cx="947.5" cy="373.3" r="6.35"/><circle cx="959.2" cy="375.8" r="6.35"/><circle cx="941.7" cy="399.2" r="6.35"/><circle cx="940" cy="405.8" r="6.35"/><circle cx="947.5" cy="420" r="6.35"/><circle cx="948.3" cy="426.7" r="6.35"/><circle cx="929.3" cy="442.9" r="6.35"/><circle cx="927.7" cy="463.3" r="6.35"/><circle cx="824.2" cy="457" r="6.35"/><circle cx="836.7" cy="457" r="6.35"/><circle cx="843.3" cy="452.8" r="6.35"/><circle cx="841.5" cy="472.5" r="6.35"/><circle cx="847.75" cy="468.9" r="6.35"/><circle cx="854" cy="465.2" r="6.35"/><circle cx="866.7" cy="478.7" r="6.35"/><circle cx="873.3" cy="477" r="6.35"/><circle cx="883.3" cy="472.8" r="6.35"/><circle cx="890.8" cy="472" r="6.35"/><circle cx="899.2" cy="471.2" r="6.35"/><circle cx="907.5" cy="472" r="6.35"/><circle cx="773.6" cy="416.9" r="6.35"/><circle cx="779" cy="418.6" r="6.35"/><circle cx="785" cy="420.8" r="6.35"/><circle cx="791" cy="422.3" r="6.35"/><circle cx="945.5" cy="394.8" r="6.35"/><circle cx="757.3" cy="434.3" r="6.35"/><circle cx="776.5" cy="431.8" r="6.35"/><circle cx="755.7" cy="446" r="6.35"/><circle cx="766.5" cy="446.8" r="6.35"/><circle cx="777.3" cy="442.7" r="6.35"/><circle cx="772.3" cy="466.3" r="6.35"/><circle cx="781" cy="463" r="6.35"/><circle cx="793.2" cy="473.8" r="6.35"/><circle cx="805.2" cy="469" r="6.35"/><circle cx="813.2" cy="459.3" r="6.35"/><circle cx="815.3" cy="481.8" r="6.35"/><circle cx="819" cy="497.3" r="6.35"/><circle cx="830.7" cy="466.8" r="6.35"/><circle cx="830.7" cy="476" r="6.35"/><circle cx="838.2" cy="481.8" r="6.35"/><circle cx="837.3" cy="472.7" r="6.35"/><circle cx="852.3" cy="489.3" r="6.35"/><circle cx="855.7" cy="478.5" r="6.35"/><circle cx="862.3" cy="482.7" r="6.35"/><circle cx="866.5" cy="494.3" r="6.35"/><circle cx="873.7" cy="498.5" r="6.35"/><circle cx="870.7" cy="489.3" r="6.35"/><circle cx="876.5" cy="484.3" r="6.35"/><circle cx="890.7" cy="495.2" r="6.35"/><circle cx="904.8" cy="483.8" r="6.35"/><circle cx="912.3" cy="486.8" r="6.35"/><circle cx="924.8" cy="483.8" r="6.35"/><circle cx="942.8" cy="487.7" r="6.35"/><circle cx="918.2" cy="473.5" r="6.35"/><circle cx="928.2" cy="465.2" r="6.35"/><circle cx="952.3" cy="457.7" r="6.35"/><circle cx="952.3" cy="468.5" r="6.35"/><circle cx="945.7" cy="446.8" r="6.35"/><circle cx="930.7" cy="443.5" r="6.35"/><circle cx="797.3" cy="436.8" r="6.35"/><circle cx="795.7" cy="432.7" r="6.35"/></g>
<path d="M755.9,374.2 L756.9,375.0 L757.9,375.9 L759.0,377.0 L760.3,378.2 L761.7,379.5 L763.1,380.8 L764.6,382.2 L766.0,383.5 L767.4,384.8 L768.9,386.0 L770.5,387.3 L772.0,388.6 L773.6,389.9 L775.2,391.3 L776.8,392.6 L778.3,393.8 L779.8,394.7 L781.2,395.5 L782.7,396.3 L784.1,397.2 L785.5,398.0 L787.0,398.8 L788.5,399.6 L790.0,400.0 L791.5,400.5 L792.9,400.9 L794.3,401.3 L795.8,401.8 L797.3,402.2 L799.1,402.6 L801.0,403.1 L803.3,403.5 L806.0,404.0 L809.0,404.5 L812.2,405.0 L815.7,405.5 L819.2,406.0 L822.6,406.5 L825.9,407.0 L829.0,407.4 L831.9,407.6 L834.7,407.8 L837.4,407.9 L840.1,408.1 L842.6,408.2 L845.2,408.1 L847.6,408.1 L850.0,408.1 L852.3,408.1 L854.6,408.2 L856.9,408.3 L859.0,408.3 L861.1,408.4 L863.1,408.5 L864.9,408.5 L866.7,408.4 L868.3,408.3 L869.7,408.1 L871.1,407.9 L872.3,407.7 L873.5,407.5 L874.6,407.2 L875.8,406.9 L877.0,406.6 L878.2,406.2 L879.5,405.8 L880.7,405.3 L881.9,404.9 L883.1,404.4 L884.3,404.0 L885.5,403.7 L886.7,403.6 L887.9,403.6 L889.1,403.8 L890.4,404.0 L891.6,404.3 L892.8,404.7 L894.1,405.0 L895.3,405.4 L896.5,405.7 L897.7,406.0 L899.0,406.4 L900.2,406.9 L901.5,407.3 L902.7,407.7 L904.0,408.0 L905.1,408.2 L906.2,408.1 L907.3,408.0 L908.4,407.6 L909.4,407.2 L910.3,406.7 L911.3,406.0 L912.2,405.4 L913.1,404.6 L914.0,403.9 L914.9,403.1 L915.7,402.2 L916.5,401.3 L917.3,400.3 L918.0,399.2 L918.7,398.2 L919.5,397.1 L920.2,396.1 L920.9,395.1 L921.6,394.0 L922.3,392.9 L923.0,391.8 L923.6,390.7 L924.3,389.5 L924.9,388.5 L925.5,387.4 L926.1,386.4 L926.6,385.3 L927.1,384.3 L927.6,383.3 L928.1,382.3 L928.6,381.3 L929.1,380.3 L929.6,379.4 L930.1,378.6 L930.5,378.0 L930.8,377.4 L931.2,376.9 L931.6,376.2 L932.2,375.3 L932.9,374.1 L933.8,372.4 L934.9,370.2 L936.1,367.6 L937.6,364.7 L939.1,361.6 L940.7,358.3 L942.3,355.0 L943.9,351.9 L945.5,348.9 L947.0,346.1 L948.6,343.2 L950.2,340.4 L951.8,337.6 L953.4,334.9 L955.0,332.2 L956.5,329.7 L957.9,327.4 L959.3,325.2 L960.6,323.1 L961.9,321.0 L963.1,319.0 L964.4,317.1 L965.6,315.3 L966.7,313.6 L967.9,311.9 L969.0,310.4 L970.1,308.9 L971.2,307.6 L972.2,306.3 L973.2,305.1 L974.3,303.9 L975.4,302.7 L976.5,301.6 L977.7,300.5 L978.8,299.4 L979.9,298.4 L981.1,297.4 L982.3,296.5 L983.7,295.8 L985.1,295.0 L986.7,294.3 L988.5,293.5 L990.4,292.8 L992.5,292.0 L994.6,291.3 L996.8,290.6 L999.0,290.1 L1001.2,289.6 L1003.3,289.1 L1005.4,288.8 L1007.6,288.5 L1009.8,288.3 L1011.9,288.2 L1014.1,288.1 L1016.2,288.0 L1018.1,288.0 L1020.0,288.0 L1021.7,288.0 L1023.1,288.1 L1024.4,288.3 L1025.7,288.4 L1027.0,288.6 L1028.5,288.8 L1030.1,289.0 L1032.0,289.2 L1034.1,289.5 L1036.3,289.7 L1038.7,289.9 L1041.2,290.2 L1043.8,290.4 L1046.7,290.6 L1049.7,290.8 L1053.0,291.1 L1056.6,291.5 L1060.5,291.8 L1064.6,292.2 L1068.9,292.6 L1073.2,293.1 L1077.7,293.5 L1082.0,294.0 L1086.3,294.4 L1090.5,294.7 L1094.7,295.1 L1098.9,295.4 L1103.2,295.8 L1107.4,296.2 L1111.6,296.6 L1115.8,296.9 L1120.0,297.3 L1124.2,297.3 L1128.5,297.4 L1132.8,297.4 L1137.1,297.4 L1141.3,297.5 L1145.4,297.5 L1149.3,297.5 L1153.0,297.6 L1156.5,297.5 L1159.8,297.4 L1162.9,297.3 L1165.9,297.3 L1168.8,297.2 L1171.6,297.2 L1174.3,297.2 L1177.0,297.1 L1179.6,297.1 L1182.0,297.1 L1184.3,297.0 L1186.5,297.0 L1188.7,297.0 L1191.0,296.9 L1193.4,296.9 L1196.0,296.9 L1198.7,296.7 L1201.6,296.6 L1204.5,296.4 L1207.6,296.3 L1210.6,296.1 L1213.7,296.0 L1216.9,295.8 L1220.0,295.6 L1223.1,295.4 L1226.2,295.2 L1229.3,294.9 L1232.4,294.6 L1235.6,294.3 L1238.9,294.0 L1242.4,293.6 L1246.0,293.2 L1249.9,292.4 L1254.1,291.7 L1258.4,290.9 L1262.9,290.0 L1267.3,289.2 L1271.5,288.5 L1275.6,288.0 L1279.3,287.5 L1282.8,287.1 L1286.3,286.6 L1289.6,286.2 L1292.7,285.8 L1295.6,285.4 L1298.2,285.0 L1300.3,284.7 L1302.0,284.5 L1302.0,378.3 L1300.3,377.6 L1298.2,376.7 L1295.6,375.7 L1292.7,374.5 L1289.6,373.2 L1286.3,371.8 L1282.8,370.3 L1279.3,368.9 L1275.6,367.3 L1271.5,365.5 L1267.3,363.5 L1262.9,361.4 L1258.4,359.2 L1254.1,357.0 L1249.9,355.0 L1246.0,353.0 L1242.4,351.4 L1238.9,349.9 L1235.6,348.5 L1232.4,347.1 L1229.3,345.8 L1226.2,344.5 L1223.1,343.2 L1220.0,342.0 L1216.9,340.7 L1213.7,339.5 L1210.6,338.3 L1207.6,337.1 L1204.5,336.0 L1201.6,334.8 L1198.7,333.7 L1196.0,332.7 L1193.4,331.9 L1191.0,331.1 L1188.7,330.4 L1186.5,329.7 L1184.3,329.1 L1182.0,328.4 L1179.6,327.6 L1177.0,326.9 L1174.3,326.1 L1171.6,325.2 L1168.8,324.4 L1165.9,323.5 L1162.9,322.6 L1159.8,321.7 L1156.5,320.8 L1153.0,319.8 L1149.3,318.9 L1145.4,318.0 L1141.3,317.1 L1137.1,316.1 L1132.8,315.2 L1128.5,314.2 L1124.2,313.3 L1120.0,312.3 L1115.8,311.8 L1111.6,311.2 L1107.4,310.7 L1103.2,310.1 L1098.9,309.6 L1094.7,309.0 L1090.5,308.5 L1086.3,308.0 L1082.0,307.5 L1077.7,307.1 L1073.2,306.6 L1068.9,306.1 L1064.6,305.7 L1060.5,305.3 L1056.6,304.9 L1053.0,304.6 L1049.7,304.3 L1046.7,304.0 L1043.8,303.8 L1041.2,303.6 L1038.7,303.5 L1036.3,303.4 L1034.1,303.3 L1032.0,303.3 L1030.1,303.2 L1028.5,303.1 L1027.0,303.0 L1025.7,302.9 L1024.4,302.9 L1023.1,302.9 L1021.7,302.9 L1020.0,303.0 L1018.1,303.1 L1016.2,303.3 L1014.1,303.4 L1011.9,303.6 L1009.8,303.9 L1007.6,304.2 L1005.4,304.6 L1003.3,305.1 L1001.2,305.6 L999.0,306.2 L996.8,306.9 L994.6,307.7 L992.5,308.4 L990.4,309.2 L988.5,309.9 L986.7,310.7 L985.1,311.4 L983.7,312.2 L982.3,312.9 L981.1,313.6 L979.9,314.2 L978.8,314.9 L977.7,315.6 L976.5,316.4 L975.4,317.3 L974.3,318.1 L973.2,319.0 L972.2,320.0 L971.2,321.0 L970.1,322.1 L969.0,323.4 L967.9,324.7 L966.7,326.1 L965.6,327.6 L964.4,329.2 L963.1,330.8 L961.9,332.5 L960.6,334.4 L959.3,336.4 L957.9,338.6 L956.5,340.9 L955.0,343.5 L953.4,346.1 L951.8,348.8 L950.2,351.6 L948.6,354.4 L947.0,357.3 L945.5,360.1 L943.9,363.1 L942.3,366.2 L940.7,369.5 L939.1,372.8 L937.6,375.9 L936.1,378.8 L934.9,381.4 L933.8,383.6 L932.9,385.3 L932.2,386.5 L931.6,387.4 L931.2,388.1 L930.8,388.6 L930.5,389.2 L930.1,389.8 L929.6,390.6 L929.1,391.5 L928.6,392.5 L928.1,393.5 L927.6,394.5 L927.1,395.5 L926.6,396.5 L926.1,397.6 L925.5,398.6 L924.9,399.7 L924.3,400.7 L923.6,401.9 L923.0,403.0 L922.3,404.1 L921.6,405.2 L920.9,406.3 L920.2,407.3 L919.5,408.3 L918.7,409.4 L918.0,410.4 L917.3,411.5 L916.5,412.5 L915.7,413.4 L914.9,414.3 L914.0,415.1 L913.1,415.8 L912.2,416.6 L911.3,417.2 L910.3,417.9 L909.4,418.4 L908.4,418.8 L907.3,419.2 L906.2,419.4 L905.1,419.4 L904.0,419.2 L902.7,418.9 L901.5,418.5 L900.2,418.1 L899.0,417.6 L897.7,417.2 L896.5,416.9 L895.3,416.6 L894.1,416.2 L892.8,415.9 L891.6,415.5 L890.4,415.2 L889.1,415.0 L887.9,414.8 L886.7,414.8 L885.5,414.9 L884.3,415.2 L883.1,415.6 L881.9,416.1 L880.7,416.5 L879.5,417.0 L878.2,417.4 L877.0,417.8 L875.8,418.1 L874.6,418.4 L873.5,418.7 L872.3,418.9 L871.1,419.1 L869.7,419.3 L868.3,419.5 L866.7,419.6 L864.9,419.7 L863.1,419.7 L861.1,419.6 L859.0,419.6 L856.9,419.5 L854.6,419.4 L852.3,419.3 L850.0,419.3 L847.6,419.3 L845.2,419.3 L842.6,419.4 L840.1,419.6 L837.4,419.8 L834.7,420.1 L831.9,420.3 L829.0,420.5 L825.9,420.7 L822.6,421.0 L819.2,421.4 L815.7,421.8 L812.2,422.1 L809.0,422.4 L806.0,422.7 L803.3,422.9 L801.0,423.0 L799.1,423.1 L797.3,423.1 L795.8,423.1 L794.3,423.1 L792.9,423.0 L791.5,422.9 L790.0,422.9 L788.5,422.8 L787.0,423.0 L785.5,423.1 L784.1,423.3 L782.7,423.4 L781.2,423.6 L779.8,423.7 L778.3,423.8 L776.8,424.3 L775.2,424.8 L773.6,425.3 L772.0,425.8 L770.5,426.3 L768.9,426.8 L767.4,427.2 L766.0,427.8 L764.6,428.4 L763.1,429.1 L761.7,429.8 L760.3,430.4 L759.0,431.0 L757.9,431.5 L756.9,432.0 L755.9,432.2 Z" fill="#8C8C8C" fill-opacity="0.42"/>
<path d="M756.2,404.3 C757.8,404.7 762.3,405.8 766,406.6 C769.7,407.5 774.3,408.6 778.3,409.4 C782.3,410.2 785.8,411.0 790,411.6 C794.2,412.2 796.8,412.9 803.3,413.3 C809.8,413.7 821.2,413.8 829,413.9 C836.8,414.0 843.7,413.7 850,413.7 C856.3,413.7 862.2,414.2 866.7,414.0 C871.2,413.8 873.7,413.0 877,412.2 C880.3,411.4 883.5,409.3 886.7,409.2 C890.0,409.1 893.2,410.5 896.5,411.3 C899.8,412.1 903.3,414.1 906.25,413.75 C909.2,413.4 911.7,411.5 914,409.5 C916.3,407.5 918.3,404.4 920.2,401.7 C922.1,398.9 923.9,395.8 925.5,393 C927.1,390.2 928.2,387.5 929.6,385 C931.0,382.5 931.1,383.1 933.75,378 C936.4,372.9 941.5,362.0 945.5,354.5 C949.5,347.0 954.2,339.0 957.9,333 C961.6,327.0 964.8,322.3 967.9,318.3 C971.0,314.3 973.4,311.6 976.5,309 C979.6,306.4 982.2,304.5 986.7,302.5 C991.2,300.5 997.8,298.3 1003.3,297.1 C1008.8,295.9 1015.2,295.6 1020,295.5 C1024.8,295.4 1026.5,295.9 1032,296.25 C1037.5,296.6 1044.0,297.0 1053,297.8 C1062.0,298.6 1075.1,299.8 1086.3,301 C1097.5,302.2 1108.9,303.5 1120,304.8 C1131.1,306.1 1143.5,307.4 1153,308.6 C1162.5,309.8 1169.8,310.9 1177,311.9 C1184.2,312.9 1188.8,313.6 1196,314.75 C1203.2,315.9 1211.7,317.4 1220,318.8 C1228.3,320.2 1236.1,321.5 1246,323.1 C1255.9,324.7 1270.0,326.9 1279.3,328.3 C1288.6,329.7 1298.2,331.0 1302,331.5" fill="none" stroke="#FEC00F" stroke-width="11.5" stroke-linejoin="round"/>
</svg>
</body></html>
